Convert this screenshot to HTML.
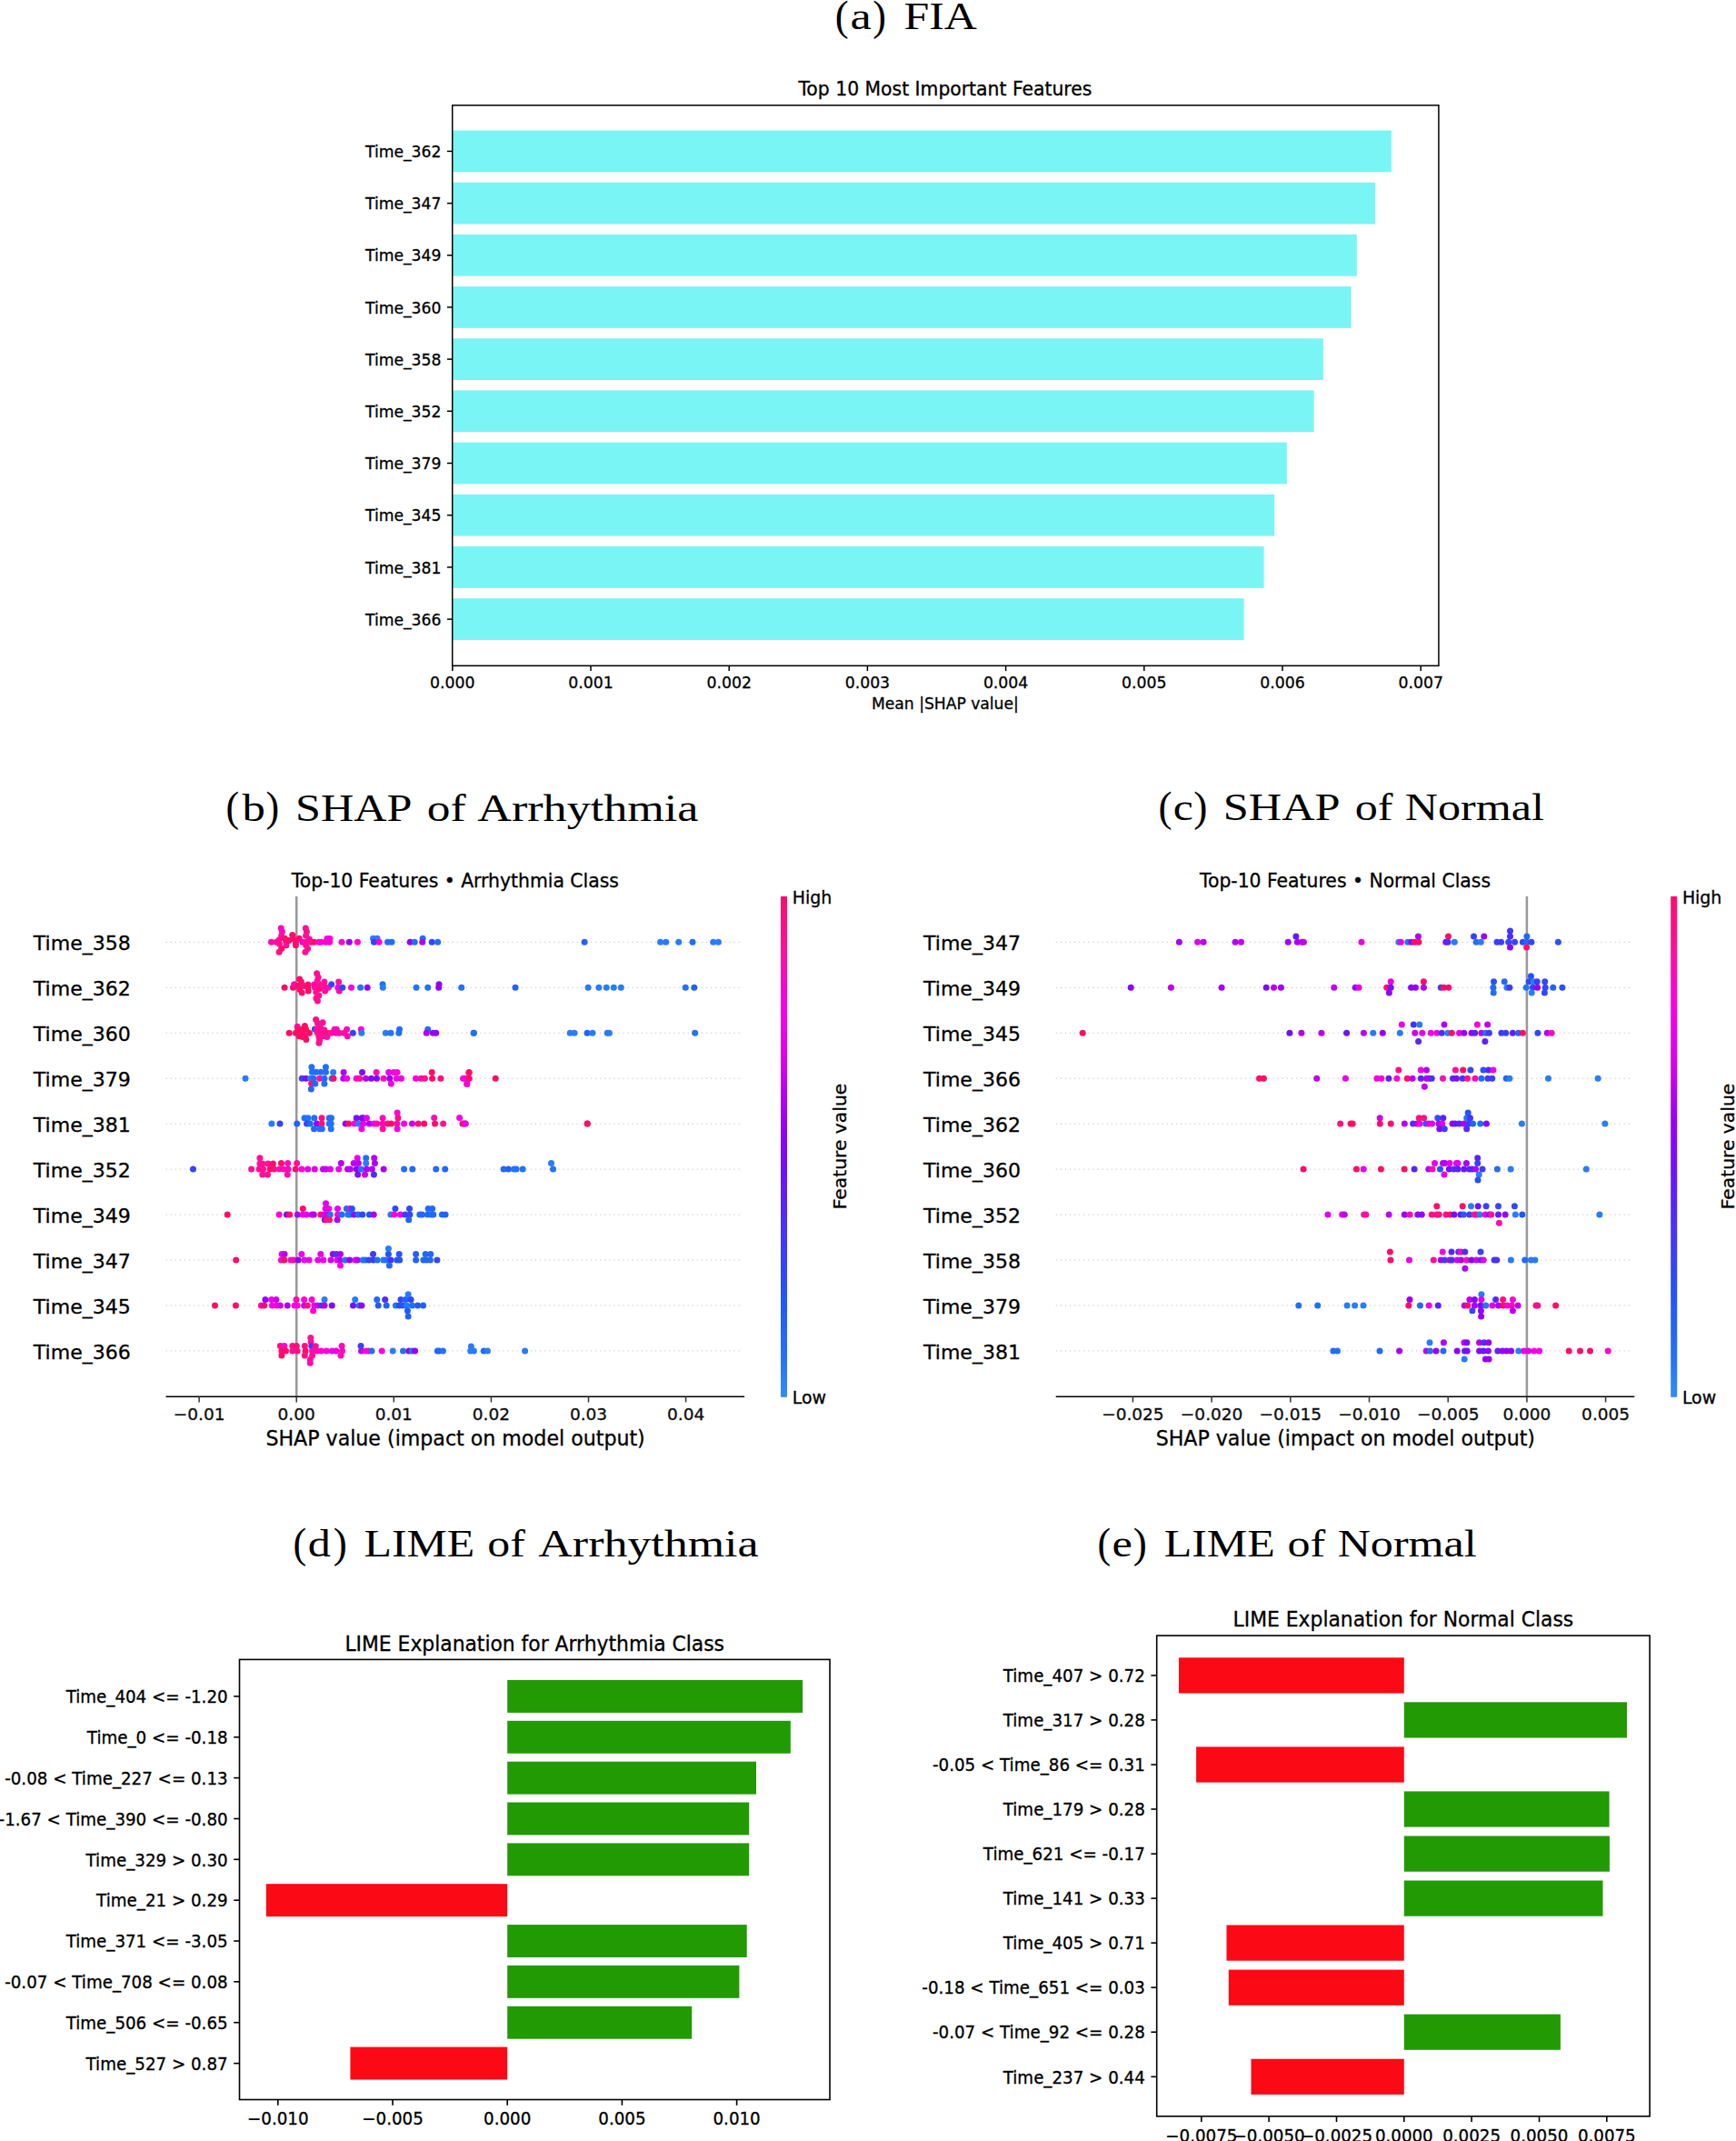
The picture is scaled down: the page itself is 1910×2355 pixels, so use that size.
<!DOCTYPE html>
<html lang="en"><head><meta charset="utf-8"><title>Explainability figure</title>
<style>html,body{margin:0;padding:0;background:#fff}body{width:1910px;height:2355px;overflow:hidden}</style></head>
<body>
<svg width="1910" height="2355" viewBox="0 0 1910 2355" style="display:block">
<rect width="1910" height="2355" fill="#fff"/>
<defs><linearGradient id="cb" x1="0" y1="1" x2="0" y2="0">
<stop offset="0.0" stop-color="rgb(50, 140, 250)"/>
<stop offset="0.08" stop-color="rgb(35, 115, 245)"/>
<stop offset="0.2" stop-color="rgb(35, 85, 250)"/>
<stop offset="0.35" stop-color="rgb(78, 46, 250)"/>
<stop offset="0.45" stop-color="rgb(108, 20, 250)"/>
<stop offset="0.55" stop-color="rgb(152, 0, 245)"/>
<stop offset="0.68" stop-color="rgb(222, 0, 236)"/>
<stop offset="0.78" stop-color="rgb(252, 0, 228)"/>
<stop offset="0.9" stop-color="rgb(255, 16, 150)"/>
<stop offset="1.0" stop-color="rgb(255, 13, 105)"/>
</linearGradient></defs>
<text font-size="42.5" font-family='"Liberation Serif","DejaVu Serif",serif' style="font-kerning:none;font-variant-ligatures:none"><tspan x="918.83" y="32.60" font-size="45.9" textLength="14.91" lengthAdjust="spacingAndGlyphs">(</tspan><tspan x="935.56" y="32.10" textLength="23.26" lengthAdjust="spacingAndGlyphs">a</tspan><tspan x="960.18" y="32.60" font-size="45.9" textLength="14.65" lengthAdjust="spacingAndGlyphs">)</tspan> <tspan x="994.46" y="32.10" textLength="80.40" lengthAdjust="spacingAndGlyphs">FIA</tspan></text>
<text font-size="42.5" font-family='"Liberation Serif","DejaVu Serif",serif' style="font-kerning:none;font-variant-ligatures:none"><tspan x="248.57" y="903.00" font-size="45.9" textLength="14.65" lengthAdjust="spacingAndGlyphs">(</tspan><tspan x="266.60" y="902.50" textLength="25.33" lengthAdjust="spacingAndGlyphs">b</tspan><tspan x="292.58" y="903.00" font-size="45.9" textLength="14.65" lengthAdjust="spacingAndGlyphs">)</tspan> <tspan x="325.04" y="902.50" textLength="128.26" lengthAdjust="spacingAndGlyphs">SHAP</tspan> <tspan x="469.85" y="902.50" textLength="42.75" lengthAdjust="spacingAndGlyphs">of</tspan> <tspan x="525.29" y="902.50" textLength="243.12" lengthAdjust="spacingAndGlyphs">Arrhythmia</tspan></text>
<text font-size="42.5" font-family='"Liberation Serif","DejaVu Serif",serif' style="font-kerning:none;font-variant-ligatures:none"><tspan x="1274.62" y="902.90" font-size="45.9" textLength="15.04" lengthAdjust="spacingAndGlyphs">(</tspan><tspan x="1290.81" y="902.40" textLength="22.01" lengthAdjust="spacingAndGlyphs">c</tspan><tspan x="1313.33" y="902.90" font-size="45.9" textLength="15.17" lengthAdjust="spacingAndGlyphs">)</tspan> <tspan x="1345.83" y="902.40" textLength="128.79" lengthAdjust="spacingAndGlyphs">SHAP</tspan> <tspan x="1490.79" y="902.40" textLength="41.81" lengthAdjust="spacingAndGlyphs">of</tspan> <tspan x="1545.76" y="902.40" textLength="153.15" lengthAdjust="spacingAndGlyphs">Normal</tspan></text>
<text font-size="42.5" font-family='"Liberation Serif","DejaVu Serif",serif' style="font-kerning:none;font-variant-ligatures:none"><tspan x="322.57" y="1712.80" font-size="45.9" textLength="14.65" lengthAdjust="spacingAndGlyphs">(</tspan><tspan x="338.79" y="1712.30" textLength="25.02" lengthAdjust="spacingAndGlyphs">d</tspan><tspan x="366.64" y="1712.80" font-size="45.9" textLength="15.04" lengthAdjust="spacingAndGlyphs">)</tspan> <tspan x="400.47" y="1712.30" textLength="121.72" lengthAdjust="spacingAndGlyphs">LIME</tspan> <tspan x="536.31" y="1712.30" textLength="41.39" lengthAdjust="spacingAndGlyphs">of</tspan> <tspan x="592.39" y="1712.30" textLength="242.22" lengthAdjust="spacingAndGlyphs">Arrhythmia</tspan></text>
<text font-size="42.5" font-family='"Liberation Serif","DejaVu Serif",serif' style="font-kerning:none;font-variant-ligatures:none"><tspan x="1207.57" y="1712.80" font-size="45.9" textLength="14.65" lengthAdjust="spacingAndGlyphs">(</tspan><tspan x="1223.64" y="1712.30" textLength="22.31" lengthAdjust="spacingAndGlyphs">e</tspan><tspan x="1246.74" y="1712.80" font-size="45.9" textLength="15.04" lengthAdjust="spacingAndGlyphs">)</tspan> <tspan x="1280.66" y="1712.30" textLength="122.03" lengthAdjust="spacingAndGlyphs">LIME</tspan> <tspan x="1416.49" y="1712.30" textLength="41.71" lengthAdjust="spacingAndGlyphs">of</tspan> <tspan x="1471.66" y="1712.30" textLength="153.05" lengthAdjust="spacingAndGlyphs">Normal</tspan></text>
<rect x="497.7" y="143.5" width="1033.2" height="45.75" fill="#79f5f6"/>
<line x1="491.9" y1="166.4" x2="497.7" y2="166.4" stroke="#000" stroke-width="1.5"/>
<text x="485.4" y="173" font-size="17.2" text-anchor="end" font-family='"DejaVu Sans","Liberation Sans",sans-serif' stroke="#000" stroke-width="0.3" >Time_362</text>
<rect x="497.7" y="200.7" width="1015.4" height="45.75" fill="#79f5f6"/>
<line x1="491.9" y1="223.6" x2="497.7" y2="223.6" stroke="#000" stroke-width="1.5"/>
<text x="485.4" y="230.2" font-size="17.2" text-anchor="end" font-family='"DejaVu Sans","Liberation Sans",sans-serif' stroke="#000" stroke-width="0.3" >Time_347</text>
<rect x="497.7" y="257.9" width="995.1" height="45.75" fill="#79f5f6"/>
<line x1="491.9" y1="280.8" x2="497.7" y2="280.8" stroke="#000" stroke-width="1.5"/>
<text x="485.4" y="287.4" font-size="17.2" text-anchor="end" font-family='"DejaVu Sans","Liberation Sans",sans-serif' stroke="#000" stroke-width="0.3" >Time_349</text>
<rect x="497.7" y="315.1" width="989" height="45.75" fill="#79f5f6"/>
<line x1="491.9" y1="337.9" x2="497.7" y2="337.9" stroke="#000" stroke-width="1.5"/>
<text x="485.4" y="344.5" font-size="17.2" text-anchor="end" font-family='"DejaVu Sans","Liberation Sans",sans-serif' stroke="#000" stroke-width="0.3" >Time_360</text>
<rect x="497.7" y="372.3" width="958.2" height="45.75" fill="#79f5f6"/>
<line x1="491.9" y1="395.1" x2="497.7" y2="395.1" stroke="#000" stroke-width="1.5"/>
<text x="485.4" y="401.7" font-size="17.2" text-anchor="end" font-family='"DejaVu Sans","Liberation Sans",sans-serif' stroke="#000" stroke-width="0.3" >Time_358</text>
<rect x="497.7" y="429.4" width="947.9" height="45.75" fill="#79f5f6"/>
<line x1="491.9" y1="452.3" x2="497.7" y2="452.3" stroke="#000" stroke-width="1.5"/>
<text x="485.4" y="458.9" font-size="17.2" text-anchor="end" font-family='"DejaVu Sans","Liberation Sans",sans-serif' stroke="#000" stroke-width="0.3" >Time_352</text>
<rect x="497.7" y="486.6" width="918.1" height="45.75" fill="#79f5f6"/>
<line x1="491.9" y1="509.5" x2="497.7" y2="509.5" stroke="#000" stroke-width="1.5"/>
<text x="485.4" y="516.1" font-size="17.2" text-anchor="end" font-family='"DejaVu Sans","Liberation Sans",sans-serif' stroke="#000" stroke-width="0.3" >Time_379</text>
<rect x="497.7" y="543.8" width="904.4" height="45.75" fill="#79f5f6"/>
<line x1="491.9" y1="566.7" x2="497.7" y2="566.7" stroke="#000" stroke-width="1.5"/>
<text x="485.4" y="573.3" font-size="17.2" text-anchor="end" font-family='"DejaVu Sans","Liberation Sans",sans-serif' stroke="#000" stroke-width="0.3" >Time_345</text>
<rect x="497.7" y="601" width="892.9" height="45.75" fill="#79f5f6"/>
<line x1="491.9" y1="623.9" x2="497.7" y2="623.9" stroke="#000" stroke-width="1.5"/>
<text x="485.4" y="630.5" font-size="17.2" text-anchor="end" font-family='"DejaVu Sans","Liberation Sans",sans-serif' stroke="#000" stroke-width="0.3" >Time_381</text>
<rect x="497.7" y="658.2" width="870.9" height="45.75" fill="#79f5f6"/>
<line x1="491.9" y1="681.1" x2="497.7" y2="681.1" stroke="#000" stroke-width="1.5"/>
<text x="485.4" y="687.7" font-size="17.2" text-anchor="end" font-family='"DejaVu Sans","Liberation Sans",sans-serif' stroke="#000" stroke-width="0.3" >Time_366</text>
<line x1="497.8" y1="732.3" x2="497.8" y2="738.1" stroke="#000" stroke-width="1.5"/>
<text x="497.8" y="757.4" font-size="17.25" text-anchor="middle" font-family='"DejaVu Sans","Liberation Sans",sans-serif' stroke="#000" stroke-width="0.3" >0.000</text>
<line x1="650" y1="732.3" x2="650" y2="738.1" stroke="#000" stroke-width="1.5"/>
<text x="650" y="757.4" font-size="17.25" text-anchor="middle" font-family='"DejaVu Sans","Liberation Sans",sans-serif' stroke="#000" stroke-width="0.3" >0.001</text>
<line x1="802.2" y1="732.3" x2="802.2" y2="738.1" stroke="#000" stroke-width="1.5"/>
<text x="802.2" y="757.4" font-size="17.25" text-anchor="middle" font-family='"DejaVu Sans","Liberation Sans",sans-serif' stroke="#000" stroke-width="0.3" >0.002</text>
<line x1="954.4" y1="732.3" x2="954.4" y2="738.1" stroke="#000" stroke-width="1.5"/>
<text x="954.4" y="757.4" font-size="17.25" text-anchor="middle" font-family='"DejaVu Sans","Liberation Sans",sans-serif' stroke="#000" stroke-width="0.3" >0.003</text>
<line x1="1106.6" y1="732.3" x2="1106.6" y2="738.1" stroke="#000" stroke-width="1.5"/>
<text x="1106.6" y="757.4" font-size="17.25" text-anchor="middle" font-family='"DejaVu Sans","Liberation Sans",sans-serif' stroke="#000" stroke-width="0.3" >0.004</text>
<line x1="1258.8" y1="732.3" x2="1258.8" y2="738.1" stroke="#000" stroke-width="1.5"/>
<text x="1258.8" y="757.4" font-size="17.25" text-anchor="middle" font-family='"DejaVu Sans","Liberation Sans",sans-serif' stroke="#000" stroke-width="0.3" >0.005</text>
<line x1="1411" y1="732.3" x2="1411" y2="738.1" stroke="#000" stroke-width="1.5"/>
<text x="1411" y="757.4" font-size="17.25" text-anchor="middle" font-family='"DejaVu Sans","Liberation Sans",sans-serif' stroke="#000" stroke-width="0.3" >0.006</text>
<line x1="1563.2" y1="732.3" x2="1563.2" y2="738.1" stroke="#000" stroke-width="1.5"/>
<text x="1563.2" y="757.4" font-size="17.25" text-anchor="middle" font-family='"DejaVu Sans","Liberation Sans",sans-serif' stroke="#000" stroke-width="0.3" >0.007</text>
<rect x="497.7" y="115.8" width="1085.2" height="616.5" fill="none" stroke="#000" stroke-width="1.5"/>
<text x="1039.9" y="780.4" font-size="17.15" text-anchor="middle" font-family='"DejaVu Sans","Liberation Sans",sans-serif' stroke="#000" stroke-width="0.3" >Mean |SHAP value|</text>
<text x="1039.9" y="105.4" font-size="20.35" text-anchor="middle" font-family='"DejaVu Sans","Liberation Sans",sans-serif' stroke="#000" stroke-width="0.3" >Top 10 Most Important Features</text>
<line x1="182.5" y1="1036.3" x2="817.1" y2="1036.3" stroke="#c2c2c2" stroke-width="1" stroke-dasharray="1.3 3.78"/>
<text x="143.7" y="1045.1" font-size="22.0" text-anchor="end" font-family='"DejaVu Sans","Liberation Sans",sans-serif' stroke="#000" stroke-width="0.3" >Time_358</text>
<line x1="182.5" y1="1086.3" x2="817.1" y2="1086.3" stroke="#c2c2c2" stroke-width="1" stroke-dasharray="1.3 3.78"/>
<text x="143.7" y="1095.1" font-size="22.0" text-anchor="end" font-family='"DejaVu Sans","Liberation Sans",sans-serif' stroke="#000" stroke-width="0.3" >Time_362</text>
<line x1="182.5" y1="1136.2" x2="817.1" y2="1136.2" stroke="#c2c2c2" stroke-width="1" stroke-dasharray="1.3 3.78"/>
<text x="143.7" y="1145" font-size="22.0" text-anchor="end" font-family='"DejaVu Sans","Liberation Sans",sans-serif' stroke="#000" stroke-width="0.3" >Time_360</text>
<line x1="182.5" y1="1186.2" x2="817.1" y2="1186.2" stroke="#c2c2c2" stroke-width="1" stroke-dasharray="1.3 3.78"/>
<text x="143.7" y="1195" font-size="22.0" text-anchor="end" font-family='"DejaVu Sans","Liberation Sans",sans-serif' stroke="#000" stroke-width="0.3" >Time_379</text>
<line x1="182.5" y1="1236.1" x2="817.1" y2="1236.1" stroke="#c2c2c2" stroke-width="1" stroke-dasharray="1.3 3.78"/>
<text x="143.7" y="1244.9" font-size="22.0" text-anchor="end" font-family='"DejaVu Sans","Liberation Sans",sans-serif' stroke="#000" stroke-width="0.3" >Time_381</text>
<line x1="182.5" y1="1286.1" x2="817.1" y2="1286.1" stroke="#c2c2c2" stroke-width="1" stroke-dasharray="1.3 3.78"/>
<text x="143.7" y="1294.9" font-size="22.0" text-anchor="end" font-family='"DejaVu Sans","Liberation Sans",sans-serif' stroke="#000" stroke-width="0.3" >Time_352</text>
<line x1="182.5" y1="1336.1" x2="817.1" y2="1336.1" stroke="#c2c2c2" stroke-width="1" stroke-dasharray="1.3 3.78"/>
<text x="143.7" y="1344.9" font-size="22.0" text-anchor="end" font-family='"DejaVu Sans","Liberation Sans",sans-serif' stroke="#000" stroke-width="0.3" >Time_349</text>
<line x1="182.5" y1="1386" x2="817.1" y2="1386" stroke="#c2c2c2" stroke-width="1" stroke-dasharray="1.3 3.78"/>
<text x="143.7" y="1394.8" font-size="22.0" text-anchor="end" font-family='"DejaVu Sans","Liberation Sans",sans-serif' stroke="#000" stroke-width="0.3" >Time_347</text>
<line x1="182.5" y1="1436" x2="817.1" y2="1436" stroke="#c2c2c2" stroke-width="1" stroke-dasharray="1.3 3.78"/>
<text x="143.7" y="1444.8" font-size="22.0" text-anchor="end" font-family='"DejaVu Sans","Liberation Sans",sans-serif' stroke="#000" stroke-width="0.3" >Time_345</text>
<line x1="182.5" y1="1485.9" x2="817.1" y2="1485.9" stroke="#c2c2c2" stroke-width="1" stroke-dasharray="1.3 3.78"/>
<text x="143.7" y="1494.7" font-size="22.0" text-anchor="end" font-family='"DejaVu Sans","Liberation Sans",sans-serif' stroke="#000" stroke-width="0.3" >Time_366</text>
<line x1="326.2" y1="986" x2="326.2" y2="1536.3" stroke="#999" stroke-width="2.55"/>
<circle cx="298.5" cy="1036.3" r="3.5" fill="#fe09b7"/>
<circle cx="304.1" cy="1036.3" r="3.5" fill="#fe09b7"/>
<circle cx="309.2" cy="1021" r="3.5" fill="#fe09b7"/>
<circle cx="310.4" cy="1024.8" r="3.5" fill="#fe09b7"/>
<circle cx="309.7" cy="1029.3" r="3.5" fill="#fe09b7"/>
<circle cx="307.1" cy="1033.8" r="3.5" fill="#ff1096"/>
<circle cx="307.4" cy="1038.2" r="3.5" fill="#ff1096"/>
<circle cx="309.7" cy="1043.5" r="3.5" fill="#ff0d69"/>
<circle cx="307.1" cy="1047.2" r="3.5" fill="#ff0f80"/>
<circle cx="313.4" cy="1032.3" r="3.5" fill="#ff0d69"/>
<circle cx="314.9" cy="1036.3" r="3.5" fill="#ff0d69"/>
<circle cx="314.9" cy="1039.7" r="3.5" fill="#ff1096"/>
<circle cx="317.9" cy="1034.5" r="3.5" fill="#ff0d69"/>
<circle cx="321.7" cy="1028.5" r="3.5" fill="#ff0d69"/>
<circle cx="322.4" cy="1032.3" r="3.5" fill="#ff0d69"/>
<circle cx="325.4" cy="1036.3" r="3.5" fill="#ff0d69"/>
<circle cx="325.4" cy="1039.7" r="3.5" fill="#ff0d69"/>
<circle cx="329.2" cy="1032.3" r="3.5" fill="#ff0d69"/>
<circle cx="332.9" cy="1036.3" r="3.5" fill="#ea00e9"/>
<circle cx="336.3" cy="1021" r="3.5" fill="#ff1096"/>
<circle cx="337.4" cy="1024.8" r="3.5" fill="#ff1096"/>
<circle cx="336.6" cy="1029.3" r="3.5" fill="#ff1096"/>
<circle cx="340.4" cy="1033" r="3.5" fill="#ff1096"/>
<circle cx="336.6" cy="1036.3" r="3.5" fill="#ff1096"/>
<circle cx="336.6" cy="1039.7" r="3.5" fill="#ff1096"/>
<circle cx="338.6" cy="1043.5" r="3.5" fill="#ff1096"/>
<circle cx="335.9" cy="1047.2" r="3.5" fill="#ff1096"/>
<circle cx="341.9" cy="1036.3" r="3.5" fill="#ff1096"/>
<circle cx="345.6" cy="1036.3" r="3.5" fill="#ff0d69"/>
<circle cx="350.9" cy="1036.3" r="3.5" fill="#fc03d7"/>
<circle cx="353.1" cy="1036.3" r="3.5" fill="#fc03d7"/>
<circle cx="358.4" cy="1036.3" r="3.5" fill="#fe09b7"/>
<circle cx="359.9" cy="1032.6" r="3.5" fill="#fc03d7"/>
<circle cx="362.9" cy="1032.6" r="3.5" fill="#f300e6"/>
<circle cx="362.6" cy="1036.3" r="3.5" fill="#fc03d7"/>
<circle cx="376" cy="1036.3" r="3.5" fill="#fc03d7"/>
<circle cx="384.3" cy="1036.3" r="3.5" fill="#9800f5"/>
<circle cx="393.4" cy="1036.3" r="3.5" fill="#fc03d7"/>
<circle cx="410.5" cy="1032.3" r="3.5" fill="#297cf7"/>
<circle cx="415" cy="1032.3" r="3.5" fill="#297cf7"/>
<circle cx="411.5" cy="1036.3" r="3.5" fill="#403bfa"/>
<circle cx="417.1" cy="1036.3" r="3.5" fill="#fc03d7"/>
<circle cx="426.5" cy="1036.3" r="3.5" fill="#236ef6"/>
<circle cx="431" cy="1036.3" r="3.5" fill="#236ef6"/>
<circle cx="451.2" cy="1036.3" r="3.5" fill="#9800f5"/>
<circle cx="456.2" cy="1036.3" r="3.5" fill="#236ef6"/>
<circle cx="465.1" cy="1032.3" r="3.5" fill="#236ef6"/>
<circle cx="464.7" cy="1036.3" r="3.5" fill="#b300f2"/>
<circle cx="475.2" cy="1036.3" r="3.5" fill="#3148fa"/>
<circle cx="481.6" cy="1036.3" r="3.5" fill="#236ef6"/>
<circle cx="313.1" cy="1086.3" r="3.5" fill="#ff0d69"/>
<circle cx="322.4" cy="1086.3" r="3.5" fill="#ff0d69"/>
<circle cx="323.6" cy="1082.8" r="3.5" fill="#fe09b7"/>
<circle cx="327.7" cy="1084.6" r="3.5" fill="#ff0d69"/>
<circle cx="329.6" cy="1077.1" r="3.5" fill="#ff0d69"/>
<circle cx="331.4" cy="1080.1" r="3.5" fill="#ff0d69"/>
<circle cx="329.9" cy="1088.4" r="3.5" fill="#ff0d69"/>
<circle cx="332.2" cy="1092.1" r="3.5" fill="#ff0d69"/>
<circle cx="334.4" cy="1084.6" r="3.5" fill="#ff0f80"/>
<circle cx="338.9" cy="1083.1" r="3.5" fill="#ff0d69"/>
<circle cx="338.9" cy="1086.3" r="3.5" fill="#ff0d69"/>
<circle cx="339.2" cy="1089.9" r="3.5" fill="#ff0d69"/>
<circle cx="345.6" cy="1083.1" r="3.5" fill="#fc03d7"/>
<circle cx="346.4" cy="1086.3" r="3.5" fill="#ff1096"/>
<circle cx="348.6" cy="1070.8" r="3.5" fill="#ff1096"/>
<circle cx="350.1" cy="1074.9" r="3.5" fill="#ff1096"/>
<circle cx="349.1" cy="1078.9" r="3.5" fill="#ff1096"/>
<circle cx="350.9" cy="1082.4" r="3.5" fill="#ff1096"/>
<circle cx="351.6" cy="1087.6" r="3.5" fill="#ff0f80"/>
<circle cx="347.9" cy="1091.4" r="3.5" fill="#ff1096"/>
<circle cx="350.9" cy="1095.1" r="3.5" fill="#ff1096"/>
<circle cx="347.9" cy="1098.1" r="3.5" fill="#ff1096"/>
<circle cx="349.4" cy="1101.1" r="3.5" fill="#ff1096"/>
<circle cx="356.9" cy="1080.1" r="3.5" fill="#ff1096"/>
<circle cx="356.1" cy="1083.9" r="3.5" fill="#ff1096"/>
<circle cx="358.4" cy="1086.3" r="3.5" fill="#ff1096"/>
<circle cx="357.6" cy="1089.9" r="3.5" fill="#ff1096"/>
<circle cx="361.4" cy="1086.3" r="3.5" fill="#fe09b7"/>
<circle cx="364.7" cy="1082.8" r="3.5" fill="#3148fa"/>
<circle cx="372.6" cy="1080.1" r="3.5" fill="#ff1096"/>
<circle cx="371.8" cy="1086.3" r="3.5" fill="#f300e6"/>
<circle cx="373.3" cy="1089.9" r="3.5" fill="#fe09b7"/>
<circle cx="376.8" cy="1086.3" r="3.5" fill="#3148fa"/>
<circle cx="386.5" cy="1086.3" r="3.5" fill="#fc03d7"/>
<circle cx="396.6" cy="1086.3" r="3.5" fill="#2373f5"/>
<circle cx="404.2" cy="1086.3" r="3.5" fill="#9800f5"/>
<circle cx="421" cy="1082.8" r="3.5" fill="#236ef6"/>
<circle cx="421.3" cy="1086.3" r="3.5" fill="#297cf7"/>
<circle cx="458" cy="1086.3" r="3.5" fill="#2373f5"/>
<circle cx="470.7" cy="1086.3" r="3.5" fill="#2373f5"/>
<circle cx="483" cy="1082.8" r="3.5" fill="#9800f5"/>
<circle cx="482.7" cy="1086.3" r="3.5" fill="#9800f5"/>
<circle cx="507.7" cy="1086.3" r="3.5" fill="#2373f5"/>
<circle cx="643.1" cy="1036.3" r="3.5" fill="#2362f8"/>
<circle cx="726.6" cy="1036.3" r="3.5" fill="#297cf7"/>
<circle cx="732.7" cy="1036.3" r="3.5" fill="#297cf7"/>
<circle cx="746.7" cy="1036.3" r="3.5" fill="#297cf7"/>
<circle cx="762" cy="1036.3" r="3.5" fill="#236ef6"/>
<circle cx="784.7" cy="1036.3" r="3.5" fill="#297cf7"/>
<circle cx="790.4" cy="1036.3" r="3.5" fill="#297cf7"/>
<circle cx="567" cy="1086.3" r="3.5" fill="#2362f8"/>
<circle cx="647.1" cy="1086.3" r="3.5" fill="#297cf7"/>
<circle cx="658.9" cy="1086.3" r="3.5" fill="#297cf7"/>
<circle cx="667.2" cy="1086.3" r="3.5" fill="#297cf7"/>
<circle cx="675.3" cy="1086.3" r="3.5" fill="#297cf7"/>
<circle cx="683.3" cy="1086.3" r="3.5" fill="#297cf7"/>
<circle cx="754.2" cy="1086.3" r="3.5" fill="#2373f5"/>
<circle cx="763.8" cy="1086.3" r="3.5" fill="#2362f8"/>
<circle cx="521.2" cy="1136.2" r="3.5" fill="#2362f8"/>
<circle cx="627.2" cy="1136.2" r="3.5" fill="#297cf7"/>
<circle cx="632" cy="1136.2" r="3.5" fill="#297cf7"/>
<circle cx="646" cy="1136.2" r="3.5" fill="#2362f8"/>
<circle cx="651.9" cy="1136.2" r="3.5" fill="#297cf7"/>
<circle cx="668.2" cy="1136.2" r="3.5" fill="#297cf7"/>
<circle cx="670.4" cy="1136.2" r="3.5" fill="#297cf7"/>
<circle cx="764.7" cy="1136.2" r="3.5" fill="#2373f5"/>
<circle cx="515.9" cy="1179.9" r="3.5" fill="#ff0d69"/>
<circle cx="511.5" cy="1186.2" r="3.5" fill="#f300e6"/>
<circle cx="515.9" cy="1186.2" r="3.5" fill="#ff0d69"/>
<circle cx="513.7" cy="1192.4" r="3.5" fill="#f300e6"/>
<circle cx="545.2" cy="1186.2" r="3.5" fill="#ff0d69"/>
<circle cx="510" cy="1236.1" r="3.5" fill="#ff0d69"/>
<circle cx="512.2" cy="1236.1" r="3.5" fill="#ea00e9"/>
<circle cx="646.2" cy="1236.1" r="3.5" fill="#ff0d69"/>
<circle cx="318.2" cy="1136.2" r="3.5" fill="#ff0d69"/>
<circle cx="325.4" cy="1136.2" r="3.5" fill="#ff0d69"/>
<circle cx="327.2" cy="1129.2" r="3.5" fill="#ff1096"/>
<circle cx="327.7" cy="1132.9" r="3.5" fill="#ff0d69"/>
<circle cx="329.2" cy="1139.7" r="3.5" fill="#ff0d69"/>
<circle cx="332.2" cy="1132.2" r="3.5" fill="#ff0d69"/>
<circle cx="332.9" cy="1136.2" r="3.5" fill="#ff0d69"/>
<circle cx="332.9" cy="1140.4" r="3.5" fill="#ff0d69"/>
<circle cx="335.4" cy="1128.4" r="3.5" fill="#ff0d69"/>
<circle cx="336.6" cy="1132.2" r="3.5" fill="#ff0d69"/>
<circle cx="335.9" cy="1139.7" r="3.5" fill="#ff0d69"/>
<circle cx="336.9" cy="1143.4" r="3.5" fill="#ff0d69"/>
<circle cx="340.4" cy="1136.2" r="3.5" fill="#ff0d69"/>
<circle cx="346.4" cy="1131.9" r="3.5" fill="#3148fa"/>
<circle cx="347.6" cy="1121.4" r="3.5" fill="#ff0f80"/>
<circle cx="349.4" cy="1125.4" r="3.5" fill="#ff1096"/>
<circle cx="355.1" cy="1124.7" r="3.5" fill="#ff1096"/>
<circle cx="351.6" cy="1128.4" r="3.5" fill="#ff1096"/>
<circle cx="348.6" cy="1132.2" r="3.5" fill="#ff1096"/>
<circle cx="353.9" cy="1132.2" r="3.5" fill="#ff1096"/>
<circle cx="356.9" cy="1132.9" r="3.5" fill="#ff1096"/>
<circle cx="349.4" cy="1136.2" r="3.5" fill="#ff1096"/>
<circle cx="353.9" cy="1137.4" r="3.5" fill="#ff0f80"/>
<circle cx="350.9" cy="1140.4" r="3.5" fill="#ff1096"/>
<circle cx="356.1" cy="1139.7" r="3.5" fill="#ff1096"/>
<circle cx="351.6" cy="1144.2" r="3.5" fill="#ff1096"/>
<circle cx="350.9" cy="1147.2" r="3.5" fill="#ff1096"/>
<circle cx="359.9" cy="1136.2" r="3.5" fill="#ff0f80"/>
<circle cx="359.9" cy="1140.4" r="3.5" fill="#fe09b7"/>
<circle cx="364.4" cy="1136.2" r="3.5" fill="#ff1096"/>
<circle cx="368.1" cy="1132.2" r="3.5" fill="#fe09b7"/>
<circle cx="370.3" cy="1132.2" r="3.5" fill="#fe09b7"/>
<circle cx="369.6" cy="1136.2" r="3.5" fill="#fe09b7"/>
<circle cx="373.3" cy="1136.2" r="3.5" fill="#fe09b7"/>
<circle cx="378.6" cy="1136.2" r="3.5" fill="#ff1096"/>
<circle cx="381.6" cy="1132.2" r="3.5" fill="#fe09b7"/>
<circle cx="382.3" cy="1139.7" r="3.5" fill="#fe09b7"/>
<circle cx="388.3" cy="1136.2" r="3.5" fill="#3a40fa"/>
<circle cx="397.3" cy="1132.2" r="3.5" fill="#fc03d7"/>
<circle cx="397.8" cy="1136.2" r="3.5" fill="#297cf7"/>
<circle cx="424.3" cy="1136.2" r="3.5" fill="#297cf7"/>
<circle cx="430" cy="1136.2" r="3.5" fill="#2373f5"/>
<circle cx="439.5" cy="1132.2" r="3.5" fill="#236ef6"/>
<circle cx="438.8" cy="1136.2" r="3.5" fill="#236ef6"/>
<circle cx="470.7" cy="1132.2" r="3.5" fill="#236ef6"/>
<circle cx="469.2" cy="1136.2" r="3.5" fill="#b300f2"/>
<circle cx="476.4" cy="1136.2" r="3.5" fill="#9800f5"/>
<circle cx="479.7" cy="1136.2" r="3.5" fill="#9800f5"/>
<circle cx="521.3" cy="1136.2" r="3.5" fill="#236ef6"/>
<circle cx="270" cy="1186.2" r="3.5" fill="#297cf7"/>
<circle cx="332.2" cy="1186.2" r="3.5" fill="#3a40fa"/>
<circle cx="336.6" cy="1186.2" r="3.5" fill="#820af8"/>
<circle cx="342.9" cy="1173.7" r="3.5" fill="#236ef6"/>
<circle cx="358.4" cy="1173.7" r="3.5" fill="#236ef6"/>
<circle cx="343.4" cy="1179.3" r="3.5" fill="#236ef6"/>
<circle cx="347.9" cy="1179.3" r="3.5" fill="#236ef6"/>
<circle cx="353.1" cy="1179.3" r="3.5" fill="#236ef6"/>
<circle cx="358.4" cy="1179.3" r="3.5" fill="#236ef6"/>
<circle cx="366.6" cy="1179.6" r="3.5" fill="#297cf7"/>
<circle cx="341.6" cy="1186.2" r="3.5" fill="#297cf7"/>
<circle cx="344.9" cy="1186.2" r="3.5" fill="#236ef6"/>
<circle cx="351.6" cy="1186.2" r="3.5" fill="#ff1096"/>
<circle cx="356.9" cy="1186.2" r="3.5" fill="#2369f7"/>
<circle cx="365.1" cy="1186.2" r="3.5" fill="#236ef6"/>
<circle cx="367" cy="1186.2" r="3.5" fill="#ff0d69"/>
<circle cx="342.6" cy="1192" r="3.5" fill="#ff0f80"/>
<circle cx="346.8" cy="1192" r="3.5" fill="#2369f7"/>
<circle cx="356.9" cy="1192" r="3.5" fill="#236ef6"/>
<circle cx="342.3" cy="1198" r="3.5" fill="#2369f7"/>
<circle cx="378.1" cy="1179.6" r="3.5" fill="#b300f2"/>
<circle cx="377.8" cy="1186.2" r="3.5" fill="#be00f0"/>
<circle cx="381.6" cy="1186.2" r="3.5" fill="#ea00e9"/>
<circle cx="392.1" cy="1186.2" r="3.5" fill="#fc03d7"/>
<circle cx="395.8" cy="1186.2" r="3.5" fill="#ff1096"/>
<circle cx="398.5" cy="1179.6" r="3.5" fill="#820af8"/>
<circle cx="402.5" cy="1186.2" r="3.5" fill="#b300f2"/>
<circle cx="408.5" cy="1186.2" r="3.5" fill="#820af8"/>
<circle cx="414.1" cy="1179.6" r="3.5" fill="#fe09b7"/>
<circle cx="414.5" cy="1186.2" r="3.5" fill="#820af8"/>
<circle cx="422" cy="1186.2" r="3.5" fill="#fe09b7"/>
<circle cx="427.7" cy="1179.6" r="3.5" fill="#e400ea"/>
<circle cx="428.8" cy="1186.2" r="3.5" fill="#9800f5"/>
<circle cx="430.3" cy="1192" r="3.5" fill="#f300e6"/>
<circle cx="433.2" cy="1179.6" r="3.5" fill="#fc03d7"/>
<circle cx="437" cy="1179.6" r="3.5" fill="#fc03d7"/>
<circle cx="436.2" cy="1186.2" r="3.5" fill="#f300e6"/>
<circle cx="441.5" cy="1186.2" r="3.5" fill="#f300e6"/>
<circle cx="457.5" cy="1186.2" r="3.5" fill="#f300e6"/>
<circle cx="463.2" cy="1186.2" r="3.5" fill="#ff1096"/>
<circle cx="467.4" cy="1186.2" r="3.5" fill="#ff1096"/>
<circle cx="475.2" cy="1179.6" r="3.5" fill="#ff0d69"/>
<circle cx="475.6" cy="1186.2" r="3.5" fill="#ff0d69"/>
<circle cx="484.9" cy="1186.2" r="3.5" fill="#ff0f80"/>
<circle cx="509.6" cy="1186.2" r="3.5" fill="#fc03d7"/>
<circle cx="516.1" cy="1179.6" r="3.5" fill="#ff0d69"/>
<circle cx="516.1" cy="1186.2" r="3.5" fill="#ff0d69"/>
<circle cx="513.8" cy="1192" r="3.5" fill="#fc03d7"/>
<circle cx="298.9" cy="1236.1" r="3.5" fill="#297cf7"/>
<circle cx="308" cy="1236.1" r="3.5" fill="#3a40fa"/>
<circle cx="326.7" cy="1236.1" r="3.5" fill="#2362f8"/>
<circle cx="335" cy="1229.8" r="3.5" fill="#236ef6"/>
<circle cx="339" cy="1229.8" r="3.5" fill="#2373f5"/>
<circle cx="345.8" cy="1229.8" r="3.5" fill="#236ef6"/>
<circle cx="354" cy="1229.8" r="3.5" fill="#ff0f80"/>
<circle cx="362.2" cy="1229.8" r="3.5" fill="#236ef6"/>
<circle cx="364.5" cy="1229.8" r="3.5" fill="#236ef6"/>
<circle cx="337.5" cy="1236.1" r="3.5" fill="#3148fa"/>
<circle cx="341.3" cy="1236.1" r="3.5" fill="#2369f7"/>
<circle cx="348.5" cy="1236.1" r="3.5" fill="#9800f5"/>
<circle cx="354" cy="1236.1" r="3.5" fill="#ff0f80"/>
<circle cx="362.2" cy="1236.1" r="3.5" fill="#2373f5"/>
<circle cx="364.2" cy="1236.1" r="3.5" fill="#2373f5"/>
<circle cx="345.5" cy="1241.8" r="3.5" fill="#2369f7"/>
<circle cx="351.7" cy="1241.8" r="3.5" fill="#236ef6"/>
<circle cx="354.3" cy="1241.8" r="3.5" fill="#236ef6"/>
<circle cx="364.2" cy="1241.8" r="3.5" fill="#2373f5"/>
<circle cx="380.2" cy="1236.1" r="3.5" fill="#820af8"/>
<circle cx="383.6" cy="1236.1" r="3.5" fill="#ff0d69"/>
<circle cx="389.9" cy="1236.1" r="3.5" fill="#fc03d7"/>
<circle cx="392.2" cy="1229.8" r="3.5" fill="#820af8"/>
<circle cx="394.4" cy="1236.1" r="3.5" fill="#297cf7"/>
<circle cx="398.2" cy="1229.8" r="3.5" fill="#820af8"/>
<circle cx="399.7" cy="1229.8" r="3.5" fill="#820af8"/>
<circle cx="403.4" cy="1229.8" r="3.5" fill="#e400ea"/>
<circle cx="399.7" cy="1236.1" r="3.5" fill="#e400ea"/>
<circle cx="397.9" cy="1241.8" r="3.5" fill="#fc03d7"/>
<circle cx="406.4" cy="1236.1" r="3.5" fill="#b300f2"/>
<circle cx="411.7" cy="1236.1" r="3.5" fill="#e400ea"/>
<circle cx="414.7" cy="1236.1" r="3.5" fill="#fe09b7"/>
<circle cx="421.1" cy="1229.8" r="3.5" fill="#fe09b7"/>
<circle cx="421.1" cy="1236.1" r="3.5" fill="#fe09b7"/>
<circle cx="421.1" cy="1241.8" r="3.5" fill="#ff1096"/>
<circle cx="426.6" cy="1236.1" r="3.5" fill="#ff0f80"/>
<circle cx="430.4" cy="1236.1" r="3.5" fill="#ff0d69"/>
<circle cx="437.1" cy="1223.9" r="3.5" fill="#fc03d7"/>
<circle cx="437.9" cy="1229.8" r="3.5" fill="#ff0f80"/>
<circle cx="436.8" cy="1236.1" r="3.5" fill="#fe09b7"/>
<circle cx="437.1" cy="1241.8" r="3.5" fill="#f300e6"/>
<circle cx="444.6" cy="1236.1" r="3.5" fill="#fc03d7"/>
<circle cx="212.5" cy="1286.1" r="3.5" fill="#3a40fa"/>
<circle cx="276.6" cy="1286.1" r="3.5" fill="#ff1096"/>
<circle cx="285.9" cy="1273.7" r="3.5" fill="#ff1096"/>
<circle cx="285.9" cy="1280" r="3.5" fill="#ff1096"/>
<circle cx="288.8" cy="1280" r="3.5" fill="#ff1096"/>
<circle cx="294.8" cy="1280" r="3.5" fill="#ff1096"/>
<circle cx="300.4" cy="1280" r="3.5" fill="#ff0d69"/>
<circle cx="309.4" cy="1279.5" r="3.5" fill="#ff0d69"/>
<circle cx="316.6" cy="1279.5" r="3.5" fill="#fe09b7"/>
<circle cx="326.6" cy="1279.5" r="3.5" fill="#ff1096"/>
<circle cx="285.1" cy="1286.1" r="3.5" fill="#ff1096"/>
<circle cx="289.6" cy="1286.1" r="3.5" fill="#ff1096"/>
<circle cx="297.1" cy="1286.1" r="3.5" fill="#ff0d69"/>
<circle cx="301.6" cy="1286.1" r="3.5" fill="#ff0f80"/>
<circle cx="307.6" cy="1286.1" r="3.5" fill="#fe09b7"/>
<circle cx="312.1" cy="1286.1" r="3.5" fill="#fe09b7"/>
<circle cx="317" cy="1286.1" r="3.5" fill="#fe09b7"/>
<circle cx="325.2" cy="1286.1" r="3.5" fill="#ff0d69"/>
<circle cx="288.8" cy="1291.9" r="3.5" fill="#ff1096"/>
<circle cx="294.5" cy="1291.9" r="3.5" fill="#ff1096"/>
<circle cx="316.3" cy="1291.9" r="3.5" fill="#fe09b7"/>
<circle cx="332" cy="1286.1" r="3.5" fill="#fc03d7"/>
<circle cx="338.7" cy="1286.1" r="3.5" fill="#e400ea"/>
<circle cx="346.2" cy="1286.1" r="3.5" fill="#e400ea"/>
<circle cx="355.5" cy="1286.1" r="3.5" fill="#be00f0"/>
<circle cx="358.5" cy="1286.1" r="3.5" fill="#be00f0"/>
<circle cx="363.4" cy="1286.1" r="3.5" fill="#ea00e9"/>
<circle cx="372.7" cy="1286.1" r="3.5" fill="#ea00e9"/>
<circle cx="375.3" cy="1279.5" r="3.5" fill="#b300f2"/>
<circle cx="382.5" cy="1286.1" r="3.5" fill="#b300f2"/>
<circle cx="385.4" cy="1286.1" r="3.5" fill="#b300f2"/>
<circle cx="389.2" cy="1279.5" r="3.5" fill="#be00f0"/>
<circle cx="393.2" cy="1273.7" r="3.5" fill="#ea00e9"/>
<circle cx="394.4" cy="1279.5" r="3.5" fill="#be00f0"/>
<circle cx="392.2" cy="1286.1" r="3.5" fill="#9800f5"/>
<circle cx="393.7" cy="1291.9" r="3.5" fill="#820af8"/>
<circle cx="397.4" cy="1286.1" r="3.5" fill="#2373f5"/>
<circle cx="402.7" cy="1273.7" r="3.5" fill="#236ef6"/>
<circle cx="402.7" cy="1279.5" r="3.5" fill="#297cf7"/>
<circle cx="403.4" cy="1286.1" r="3.5" fill="#b300f2"/>
<circle cx="401.5" cy="1291.9" r="3.5" fill="#ce00ee"/>
<circle cx="411.7" cy="1273.7" r="3.5" fill="#b300f2"/>
<circle cx="412.4" cy="1279.5" r="3.5" fill="#b300f2"/>
<circle cx="409.4" cy="1286.1" r="3.5" fill="#b300f2"/>
<circle cx="411.4" cy="1291.9" r="3.5" fill="#4e2efa"/>
<circle cx="422.1" cy="1286.1" r="3.5" fill="#a800f3"/>
<circle cx="444.6" cy="1286.1" r="3.5" fill="#236ef6"/>
<circle cx="453.5" cy="1236.1" r="3.5" fill="#ce00ee"/>
<circle cx="460.2" cy="1236.1" r="3.5" fill="#ff0f80"/>
<circle cx="466.7" cy="1236.1" r="3.5" fill="#ff0d69"/>
<circle cx="477.7" cy="1229.6" r="3.5" fill="#fe09b7"/>
<circle cx="478.5" cy="1236.1" r="3.5" fill="#ff0d69"/>
<circle cx="487.6" cy="1236.1" r="3.5" fill="#ff1096"/>
<circle cx="505.6" cy="1229.6" r="3.5" fill="#f300e6"/>
<circle cx="508.9" cy="1236.1" r="3.5" fill="#ff0d69"/>
<circle cx="511.9" cy="1236.1" r="3.5" fill="#ea00e9"/>
<circle cx="646.2" cy="1236.1" r="3.5" fill="#ff0d69"/>
<circle cx="453.8" cy="1286.1" r="3.5" fill="#2369f7"/>
<circle cx="479.7" cy="1286.1" r="3.5" fill="#2369f7"/>
<circle cx="489.7" cy="1286.1" r="3.5" fill="#2369f7"/>
<circle cx="554.1" cy="1286.1" r="3.5" fill="#2369f7"/>
<circle cx="559.4" cy="1286.1" r="3.5" fill="#2362f8"/>
<circle cx="565.5" cy="1286.1" r="3.5" fill="#2373f5"/>
<circle cx="568.1" cy="1286.1" r="3.5" fill="#2373f5"/>
<circle cx="575.1" cy="1286.1" r="3.5" fill="#2373f5"/>
<circle cx="606.5" cy="1279.5" r="3.5" fill="#297cf7"/>
<circle cx="608.5" cy="1286.1" r="3.5" fill="#2373f5"/>
<circle cx="250.2" cy="1336.1" r="3.5" fill="#ff0d69"/>
<circle cx="307.1" cy="1336.1" r="3.5" fill="#f300e6"/>
<circle cx="315.4" cy="1336.1" r="3.5" fill="#820af8"/>
<circle cx="318.7" cy="1336.1" r="3.5" fill="#ff0d69"/>
<circle cx="327.3" cy="1336.1" r="3.5" fill="#b300f2"/>
<circle cx="333.3" cy="1329.5" r="3.5" fill="#ff0d69"/>
<circle cx="333.3" cy="1336.1" r="3.5" fill="#ea00e9"/>
<circle cx="337.1" cy="1336.1" r="3.5" fill="#ea00e9"/>
<circle cx="343.1" cy="1336.1" r="3.5" fill="#ce00ee"/>
<circle cx="345.3" cy="1336.1" r="3.5" fill="#b300f2"/>
<circle cx="352.8" cy="1336.1" r="3.5" fill="#ff0d69"/>
<circle cx="358.5" cy="1323.8" r="3.5" fill="#e400ea"/>
<circle cx="358.1" cy="1329.5" r="3.5" fill="#ea00e9"/>
<circle cx="361.8" cy="1329.5" r="3.5" fill="#ea00e9"/>
<circle cx="356.6" cy="1336.1" r="3.5" fill="#e400ea"/>
<circle cx="360.3" cy="1336.1" r="3.5" fill="#ce00ee"/>
<circle cx="363.3" cy="1336.1" r="3.5" fill="#2373f5"/>
<circle cx="357.3" cy="1341.8" r="3.5" fill="#820af8"/>
<circle cx="359.1" cy="1341.8" r="3.5" fill="#ff0f80"/>
<circle cx="362.5" cy="1341.8" r="3.5" fill="#ff0f80"/>
<circle cx="371.5" cy="1329.5" r="3.5" fill="#ea00e9"/>
<circle cx="371.5" cy="1336.1" r="3.5" fill="#fc03d7"/>
<circle cx="371.1" cy="1341.8" r="3.5" fill="#b300f2"/>
<circle cx="376" cy="1336.1" r="3.5" fill="#236ef6"/>
<circle cx="381.3" cy="1329.5" r="3.5" fill="#236ef6"/>
<circle cx="385" cy="1329.5" r="3.5" fill="#fc03d7"/>
<circle cx="387.3" cy="1329.5" r="3.5" fill="#2355fa"/>
<circle cx="382.8" cy="1336.1" r="3.5" fill="#2373f5"/>
<circle cx="385" cy="1336.1" r="3.5" fill="#2373f5"/>
<circle cx="389.8" cy="1336.1" r="3.5" fill="#9800f5"/>
<circle cx="394" cy="1336.1" r="3.5" fill="#236ef6"/>
<circle cx="398.8" cy="1336.1" r="3.5" fill="#3148fa"/>
<circle cx="406.4" cy="1336.1" r="3.5" fill="#2355fa"/>
<circle cx="411.2" cy="1336.1" r="3.5" fill="#a800f3"/>
<circle cx="429.9" cy="1336.1" r="3.5" fill="#297cf7"/>
<circle cx="433.7" cy="1336.1" r="3.5" fill="#fc03d7"/>
<circle cx="434.9" cy="1329.5" r="3.5" fill="#3148fa"/>
<circle cx="440.4" cy="1336.1" r="3.5" fill="#f300e6"/>
<circle cx="445.7" cy="1336.1" r="3.5" fill="#403bfa"/>
<circle cx="450.5" cy="1329.5" r="3.5" fill="#3148fa"/>
<circle cx="450.9" cy="1336.1" r="3.5" fill="#3148fa"/>
<circle cx="449.7" cy="1341.8" r="3.5" fill="#2362f8"/>
<circle cx="461.8" cy="1336.1" r="3.5" fill="#2369f7"/>
<circle cx="464.4" cy="1336.1" r="3.5" fill="#2369f7"/>
<circle cx="471.1" cy="1329.5" r="3.5" fill="#2369f7"/>
<circle cx="475.6" cy="1329.5" r="3.5" fill="#2369f7"/>
<circle cx="470.4" cy="1336.1" r="3.5" fill="#2369f7"/>
<circle cx="474.1" cy="1336.1" r="3.5" fill="#2369f7"/>
<circle cx="476.8" cy="1336.1" r="3.5" fill="#2369f7"/>
<circle cx="486.4" cy="1336.1" r="3.5" fill="#2369f7"/>
<circle cx="490" cy="1336.1" r="3.5" fill="#2362f8"/>
<circle cx="259.7" cy="1386" r="3.5" fill="#ff0d69"/>
<circle cx="310.1" cy="1379.4" r="3.5" fill="#fc03d7"/>
<circle cx="313.1" cy="1379.4" r="3.5" fill="#b300f2"/>
<circle cx="309.4" cy="1386" r="3.5" fill="#fc03d7"/>
<circle cx="312.8" cy="1386" r="3.5" fill="#ff0d69"/>
<circle cx="319.9" cy="1386" r="3.5" fill="#f300e6"/>
<circle cx="322.9" cy="1386" r="3.5" fill="#ff1096"/>
<circle cx="328.1" cy="1386" r="3.5" fill="#820af8"/>
<circle cx="331.8" cy="1379.4" r="3.5" fill="#f300e6"/>
<circle cx="334.8" cy="1386" r="3.5" fill="#ea00e9"/>
<circle cx="340.1" cy="1386" r="3.5" fill="#ea00e9"/>
<circle cx="349.8" cy="1386" r="3.5" fill="#ea00e9"/>
<circle cx="352.8" cy="1379.4" r="3.5" fill="#ea00e9"/>
<circle cx="355.8" cy="1386" r="3.5" fill="#ea00e9"/>
<circle cx="364" cy="1386" r="3.5" fill="#ce00ee"/>
<circle cx="366.3" cy="1379.4" r="3.5" fill="#9800f5"/>
<circle cx="370" cy="1379.4" r="3.5" fill="#403bfa"/>
<circle cx="374.5" cy="1379.4" r="3.5" fill="#b300f2"/>
<circle cx="370.8" cy="1386" r="3.5" fill="#fc03d7"/>
<circle cx="373.8" cy="1386" r="3.5" fill="#b300f2"/>
<circle cx="374.5" cy="1391.9" r="3.5" fill="#fc00e4"/>
<circle cx="379.8" cy="1386" r="3.5" fill="#2373f5"/>
<circle cx="384.7" cy="1386" r="3.5" fill="#9800f5"/>
<circle cx="391" cy="1386" r="3.5" fill="#f300e6"/>
<circle cx="393.2" cy="1386" r="3.5" fill="#b300f2"/>
<circle cx="399.2" cy="1386" r="3.5" fill="#2373f5"/>
<circle cx="402.2" cy="1386" r="3.5" fill="#236ef6"/>
<circle cx="406" cy="1386" r="3.5" fill="#3148fa"/>
<circle cx="410.5" cy="1379.4" r="3.5" fill="#403bfa"/>
<circle cx="410.9" cy="1386" r="3.5" fill="#403bfa"/>
<circle cx="415" cy="1386" r="3.5" fill="#236ef6"/>
<circle cx="421.7" cy="1386" r="3.5" fill="#297cf7"/>
<circle cx="424.7" cy="1386" r="3.5" fill="#2373f5"/>
<circle cx="427.4" cy="1373.6" r="3.5" fill="#297cf7"/>
<circle cx="427.4" cy="1379.4" r="3.5" fill="#2355fa"/>
<circle cx="429.9" cy="1386" r="3.5" fill="#4e2efa"/>
<circle cx="428.4" cy="1391.9" r="3.5" fill="#2369f7"/>
<circle cx="436.7" cy="1386" r="3.5" fill="#2355fa"/>
<circle cx="439.2" cy="1379.4" r="3.5" fill="#2355fa"/>
<circle cx="439.7" cy="1386" r="3.5" fill="#2355fa"/>
<circle cx="457.6" cy="1379.4" r="3.5" fill="#2362f8"/>
<circle cx="457.6" cy="1386" r="3.5" fill="#2362f8"/>
<circle cx="465.9" cy="1386" r="3.5" fill="#2369f7"/>
<circle cx="468.1" cy="1379.4" r="3.5" fill="#2369f7"/>
<circle cx="469.6" cy="1386" r="3.5" fill="#2369f7"/>
<circle cx="473.8" cy="1379.4" r="3.5" fill="#2369f7"/>
<circle cx="473.4" cy="1386" r="3.5" fill="#2369f7"/>
<circle cx="480.9" cy="1386" r="3.5" fill="#3148fa"/>
<circle cx="236.5" cy="1436" r="3.5" fill="#ff0d69"/>
<circle cx="259.4" cy="1436" r="3.5" fill="#ff0d69"/>
<circle cx="287.4" cy="1436" r="3.5" fill="#fe09b7"/>
<circle cx="290.7" cy="1436" r="3.5" fill="#ff0d69"/>
<circle cx="291.9" cy="1429.4" r="3.5" fill="#9800f5"/>
<circle cx="298.6" cy="1429.4" r="3.5" fill="#ea00e9"/>
<circle cx="299.4" cy="1436" r="3.5" fill="#fc03d7"/>
<circle cx="303.9" cy="1429.4" r="3.5" fill="#ce00ee"/>
<circle cx="304.6" cy="1436" r="3.5" fill="#f300e6"/>
<circle cx="308.4" cy="1436" r="3.5" fill="#ce00ee"/>
<circle cx="316.2" cy="1436" r="3.5" fill="#a800f3"/>
<circle cx="324.1" cy="1436" r="3.5" fill="#fc03d7"/>
<circle cx="326" cy="1429.4" r="3.5" fill="#fe09b7"/>
<circle cx="327.1" cy="1436" r="3.5" fill="#fc00e4"/>
<circle cx="334.6" cy="1429.4" r="3.5" fill="#fc03d7"/>
<circle cx="334.6" cy="1436" r="3.5" fill="#ce00ee"/>
<circle cx="338.3" cy="1436" r="3.5" fill="#ff0f80"/>
<circle cx="343.1" cy="1429.4" r="3.5" fill="#fc03d7"/>
<circle cx="345.8" cy="1436" r="3.5" fill="#ea00e9"/>
<circle cx="344.6" cy="1441.7" r="3.5" fill="#fd05ca"/>
<circle cx="349.5" cy="1436" r="3.5" fill="#ce00ee"/>
<circle cx="357" cy="1429.4" r="3.5" fill="#297cf7"/>
<circle cx="354" cy="1436" r="3.5" fill="#403bfa"/>
<circle cx="357" cy="1436" r="3.5" fill="#b300f2"/>
<circle cx="365.3" cy="1436" r="3.5" fill="#820af8"/>
<circle cx="390.7" cy="1429.4" r="3.5" fill="#297cf7"/>
<circle cx="388.5" cy="1436" r="3.5" fill="#6c14fa"/>
<circle cx="395.2" cy="1436" r="3.5" fill="#236ef6"/>
<circle cx="397.9" cy="1436" r="3.5" fill="#9800f5"/>
<circle cx="414.7" cy="1429.4" r="3.5" fill="#2369f7"/>
<circle cx="416.2" cy="1436" r="3.5" fill="#235af9"/>
<circle cx="423.7" cy="1429.4" r="3.5" fill="#4e2efa"/>
<circle cx="425.2" cy="1436" r="3.5" fill="#2362f8"/>
<circle cx="435.4" cy="1436" r="3.5" fill="#2373f5"/>
<circle cx="439.4" cy="1436" r="3.5" fill="#3148fa"/>
<circle cx="440.9" cy="1429.4" r="3.5" fill="#3148fa"/>
<circle cx="446.1" cy="1429.4" r="3.5" fill="#2362f8"/>
<circle cx="449.1" cy="1423.7" r="3.5" fill="#297cf7"/>
<circle cx="452.1" cy="1429.4" r="3.5" fill="#3148fa"/>
<circle cx="443.2" cy="1436" r="3.5" fill="#2355fa"/>
<circle cx="447.6" cy="1436" r="3.5" fill="#297cf7"/>
<circle cx="453.6" cy="1436" r="3.5" fill="#236ef6"/>
<circle cx="448.4" cy="1441.7" r="3.5" fill="#235af9"/>
<circle cx="449.1" cy="1448" r="3.5" fill="#2362f8"/>
<circle cx="459.6" cy="1436" r="3.5" fill="#235af9"/>
<circle cx="465.6" cy="1436" r="3.5" fill="#2362f8"/>
<circle cx="308.4" cy="1480.5" r="3.5" fill="#ff0f80"/>
<circle cx="312.9" cy="1480.5" r="3.5" fill="#fc03d7"/>
<circle cx="309.9" cy="1485.9" r="3.5" fill="#ff0d69"/>
<circle cx="314.4" cy="1485.9" r="3.5" fill="#ff0d69"/>
<circle cx="309.9" cy="1491" r="3.5" fill="#ff0d69"/>
<circle cx="321.8" cy="1480.5" r="3.5" fill="#ff0f80"/>
<circle cx="326.3" cy="1480.5" r="3.5" fill="#ff0f80"/>
<circle cx="321.8" cy="1485.9" r="3.5" fill="#ff1096"/>
<circle cx="327.1" cy="1485.9" r="3.5" fill="#ff0f80"/>
<circle cx="335.3" cy="1480.5" r="3.5" fill="#ff0f80"/>
<circle cx="336.1" cy="1485.9" r="3.5" fill="#ff0d69"/>
<circle cx="335.3" cy="1491" r="3.5" fill="#ff0f80"/>
<circle cx="341.8" cy="1471.6" r="3.5" fill="#ff1096"/>
<circle cx="342.1" cy="1476.1" r="3.5" fill="#ff1096"/>
<circle cx="342.8" cy="1480.8" r="3.5" fill="#403bfa"/>
<circle cx="347.3" cy="1480.8" r="3.5" fill="#ff1096"/>
<circle cx="343.6" cy="1485.9" r="3.5" fill="#fe09b7"/>
<circle cx="343.6" cy="1491" r="3.5" fill="#ff1096"/>
<circle cx="341.3" cy="1495.5" r="3.5" fill="#ff1096"/>
<circle cx="341.3" cy="1499.3" r="3.5" fill="#fe09b7"/>
<circle cx="348.8" cy="1485.9" r="3.5" fill="#fe09b7"/>
<circle cx="353.3" cy="1485.9" r="3.5" fill="#fc03d7"/>
<circle cx="359.3" cy="1485.9" r="3.5" fill="#fc03d7"/>
<circle cx="365.3" cy="1485.9" r="3.5" fill="#f300e6"/>
<circle cx="369.8" cy="1485.9" r="3.5" fill="#e400ea"/>
<circle cx="376.1" cy="1480.5" r="3.5" fill="#fe09b7"/>
<circle cx="376.5" cy="1485.9" r="3.5" fill="#fe09b7"/>
<circle cx="375" cy="1491" r="3.5" fill="#fe09b7"/>
<circle cx="397" cy="1480.5" r="3.5" fill="#3a40fa"/>
<circle cx="397.5" cy="1485.9" r="3.5" fill="#be00f0"/>
<circle cx="402.7" cy="1485.9" r="3.5" fill="#fc03d7"/>
<circle cx="405.7" cy="1485.9" r="3.5" fill="#fe09b7"/>
<circle cx="409" cy="1485.9" r="3.5" fill="#236ef6"/>
<circle cx="420.2" cy="1485.9" r="3.5" fill="#fc00e4"/>
<circle cx="432.2" cy="1485.9" r="3.5" fill="#297cf7"/>
<circle cx="443.5" cy="1485.9" r="3.5" fill="#2373f5"/>
<circle cx="449.9" cy="1485.9" r="3.5" fill="#9800f5"/>
<circle cx="453.3" cy="1485.9" r="3.5" fill="#2373f5"/>
<circle cx="456.6" cy="1485.9" r="3.5" fill="#9800f5"/>
<circle cx="481.4" cy="1485.9" r="3.5" fill="#2369f7"/>
<circle cx="483.2" cy="1485.9" r="3.5" fill="#2369f7"/>
<circle cx="487.4" cy="1485.9" r="3.5" fill="#2373f5"/>
<circle cx="518.4" cy="1481" r="3.5" fill="#297cf7"/>
<circle cx="517.7" cy="1485.9" r="3.5" fill="#297cf7"/>
<circle cx="521.4" cy="1485.9" r="3.5" fill="#297cf7"/>
<circle cx="532.3" cy="1485.9" r="3.5" fill="#2369f7"/>
<circle cx="536.4" cy="1485.9" r="3.5" fill="#297cf7"/>
<circle cx="577.6" cy="1485.9" r="3.5" fill="#297cf7"/>
<line x1="182.5" y1="1536.3" x2="819.1" y2="1536.3" stroke="#000" stroke-width="1.6"/>
<line x1="219.1" y1="1536.3" x2="219.1" y2="1542.4" stroke="#333" stroke-width="1.5"/>
<text x="219.1" y="1562.1" font-size="18.5" text-anchor="middle" font-family='"DejaVu Sans","Liberation Sans",sans-serif' stroke="#000" stroke-width="0.3" fill="#111">−0.01</text>
<line x1="326.2" y1="1536.3" x2="326.2" y2="1542.4" stroke="#333" stroke-width="1.5"/>
<text x="326.2" y="1562.1" font-size="18.5" text-anchor="middle" font-family='"DejaVu Sans","Liberation Sans",sans-serif' stroke="#000" stroke-width="0.3" fill="#111">0.00</text>
<line x1="433.3" y1="1536.3" x2="433.3" y2="1542.4" stroke="#333" stroke-width="1.5"/>
<text x="433.3" y="1562.1" font-size="18.5" text-anchor="middle" font-family='"DejaVu Sans","Liberation Sans",sans-serif' stroke="#000" stroke-width="0.3" fill="#111">0.01</text>
<line x1="540.4" y1="1536.3" x2="540.4" y2="1542.4" stroke="#333" stroke-width="1.5"/>
<text x="540.4" y="1562.1" font-size="18.5" text-anchor="middle" font-family='"DejaVu Sans","Liberation Sans",sans-serif' stroke="#000" stroke-width="0.3" fill="#111">0.02</text>
<line x1="647.5" y1="1536.3" x2="647.5" y2="1542.4" stroke="#333" stroke-width="1.5"/>
<text x="647.5" y="1562.1" font-size="18.5" text-anchor="middle" font-family='"DejaVu Sans","Liberation Sans",sans-serif' stroke="#000" stroke-width="0.3" fill="#111">0.03</text>
<line x1="754.6" y1="1536.3" x2="754.6" y2="1542.4" stroke="#333" stroke-width="1.5"/>
<text x="754.6" y="1562.1" font-size="18.5" text-anchor="middle" font-family='"DejaVu Sans","Liberation Sans",sans-serif' stroke="#000" stroke-width="0.3" fill="#111">0.04</text>
<text x="501.1" y="1589.8" font-size="22.12" text-anchor="middle" font-family='"DejaVu Sans","Liberation Sans",sans-serif' stroke="#000" stroke-width="0.3" >SHAP value (impact on model output)</text>
<text x="500.8" y="976.3" font-size="20.35" text-anchor="middle" font-family='"DejaVu Sans","Liberation Sans",sans-serif' stroke="#000" stroke-width="0.3" >Top-10 Features • Arrhythmia Class</text>
<rect x="859" y="986" width="7" height="550.8" fill="url(#cb)"/>
<text x="871.7" y="993.5" font-size="18.9" text-anchor="start" font-family='"DejaVu Sans","Liberation Sans",sans-serif' stroke="#000" stroke-width="0.3" >High</text>
<text x="871.7" y="1543.7" font-size="18.9" text-anchor="start" font-family='"DejaVu Sans","Liberation Sans",sans-serif' stroke="#000" stroke-width="0.3" >Low</text>
<text transform="translate(930.8,1261) rotate(-90)" font-size="20.3" text-anchor="middle" stroke="#000" stroke-width="0.3" font-family='"DejaVu Sans","Liberation Sans",sans-serif'>Feature value</text>
<line x1="1161.7" y1="1036.3" x2="1796.3" y2="1036.3" stroke="#c2c2c2" stroke-width="1" stroke-dasharray="1.3 3.78"/>
<text x="1122.9" y="1045.1" font-size="22.0" text-anchor="end" font-family='"DejaVu Sans","Liberation Sans",sans-serif' stroke="#000" stroke-width="0.3" >Time_347</text>
<line x1="1161.7" y1="1086.3" x2="1796.3" y2="1086.3" stroke="#c2c2c2" stroke-width="1" stroke-dasharray="1.3 3.78"/>
<text x="1122.9" y="1095.1" font-size="22.0" text-anchor="end" font-family='"DejaVu Sans","Liberation Sans",sans-serif' stroke="#000" stroke-width="0.3" >Time_349</text>
<line x1="1161.7" y1="1136.2" x2="1796.3" y2="1136.2" stroke="#c2c2c2" stroke-width="1" stroke-dasharray="1.3 3.78"/>
<text x="1122.9" y="1145" font-size="22.0" text-anchor="end" font-family='"DejaVu Sans","Liberation Sans",sans-serif' stroke="#000" stroke-width="0.3" >Time_345</text>
<line x1="1161.7" y1="1186.2" x2="1796.3" y2="1186.2" stroke="#c2c2c2" stroke-width="1" stroke-dasharray="1.3 3.78"/>
<text x="1122.9" y="1195" font-size="22.0" text-anchor="end" font-family='"DejaVu Sans","Liberation Sans",sans-serif' stroke="#000" stroke-width="0.3" >Time_366</text>
<line x1="1161.7" y1="1236.1" x2="1796.3" y2="1236.1" stroke="#c2c2c2" stroke-width="1" stroke-dasharray="1.3 3.78"/>
<text x="1122.9" y="1244.9" font-size="22.0" text-anchor="end" font-family='"DejaVu Sans","Liberation Sans",sans-serif' stroke="#000" stroke-width="0.3" >Time_362</text>
<line x1="1161.7" y1="1286.1" x2="1796.3" y2="1286.1" stroke="#c2c2c2" stroke-width="1" stroke-dasharray="1.3 3.78"/>
<text x="1122.9" y="1294.9" font-size="22.0" text-anchor="end" font-family='"DejaVu Sans","Liberation Sans",sans-serif' stroke="#000" stroke-width="0.3" >Time_360</text>
<line x1="1161.7" y1="1336.1" x2="1796.3" y2="1336.1" stroke="#c2c2c2" stroke-width="1" stroke-dasharray="1.3 3.78"/>
<text x="1122.9" y="1344.9" font-size="22.0" text-anchor="end" font-family='"DejaVu Sans","Liberation Sans",sans-serif' stroke="#000" stroke-width="0.3" >Time_352</text>
<line x1="1161.7" y1="1386" x2="1796.3" y2="1386" stroke="#c2c2c2" stroke-width="1" stroke-dasharray="1.3 3.78"/>
<text x="1122.9" y="1394.8" font-size="22.0" text-anchor="end" font-family='"DejaVu Sans","Liberation Sans",sans-serif' stroke="#000" stroke-width="0.3" >Time_358</text>
<line x1="1161.7" y1="1436" x2="1796.3" y2="1436" stroke="#c2c2c2" stroke-width="1" stroke-dasharray="1.3 3.78"/>
<text x="1122.9" y="1444.8" font-size="22.0" text-anchor="end" font-family='"DejaVu Sans","Liberation Sans",sans-serif' stroke="#000" stroke-width="0.3" >Time_379</text>
<line x1="1161.7" y1="1485.9" x2="1796.3" y2="1485.9" stroke="#c2c2c2" stroke-width="1" stroke-dasharray="1.3 3.78"/>
<text x="1122.9" y="1494.7" font-size="22.0" text-anchor="end" font-family='"DejaVu Sans","Liberation Sans",sans-serif' stroke="#000" stroke-width="0.3" >Time_381</text>
<line x1="1679.9" y1="986" x2="1679.9" y2="1536.3" stroke="#999" stroke-width="2.55"/>
<circle cx="1297.4" cy="1036.3" r="3.5" fill="#a800f3"/>
<circle cx="1317.6" cy="1036.3" r="3.5" fill="#de00ec"/>
<circle cx="1324.1" cy="1036.3" r="3.5" fill="#be00f0"/>
<circle cx="1359.1" cy="1036.3" r="3.5" fill="#b300f2"/>
<circle cx="1365.5" cy="1036.3" r="3.5" fill="#c300ef"/>
<circle cx="1417.2" cy="1036.3" r="3.5" fill="#a800f3"/>
<circle cx="1425.9" cy="1030" r="3.5" fill="#631cfa"/>
<circle cx="1427.4" cy="1036.3" r="3.5" fill="#a800f3"/>
<circle cx="1432.5" cy="1036.3" r="3.5" fill="#be00f0"/>
<circle cx="1434.4" cy="1036.3" r="3.5" fill="#be00f0"/>
<circle cx="1244.2" cy="1086.3" r="3.5" fill="#8b06f6"/>
<circle cx="1288.4" cy="1086.3" r="3.5" fill="#be00f0"/>
<circle cx="1344.1" cy="1086.3" r="3.5" fill="#a300f4"/>
<circle cx="1393.2" cy="1086.3" r="3.5" fill="#7510f9"/>
<circle cx="1401.5" cy="1086.3" r="3.5" fill="#b300f2"/>
<circle cx="1409.4" cy="1086.3" r="3.5" fill="#a300f4"/>
<circle cx="1467.8" cy="1086.3" r="3.5" fill="#c300ef"/>
<circle cx="1498" cy="1036.3" r="3.5" fill="#ea00e9"/>
<circle cx="1538.9" cy="1036.3" r="3.5" fill="#297cf7"/>
<circle cx="1541.4" cy="1036.3" r="3.5" fill="#ea00e9"/>
<circle cx="1548.9" cy="1036.3" r="3.5" fill="#2373f5"/>
<circle cx="1552.9" cy="1036.3" r="3.5" fill="#9800f5"/>
<circle cx="1556.4" cy="1036.3" r="3.5" fill="#ff0d69"/>
<circle cx="1560.9" cy="1036.3" r="3.5" fill="#ff0d69"/>
<circle cx="1560.4" cy="1030" r="3.5" fill="#b300f2"/>
<circle cx="1590.8" cy="1036.3" r="3.5" fill="#9800f5"/>
<circle cx="1593.5" cy="1030" r="3.5" fill="#ff0d69"/>
<circle cx="1593.1" cy="1036.3" r="3.5" fill="#4e2efa"/>
<circle cx="1600.3" cy="1036.3" r="3.5" fill="#297cf7"/>
<circle cx="1621.5" cy="1030" r="3.5" fill="#3a40fa"/>
<circle cx="1624.2" cy="1036.3" r="3.5" fill="#236ef6"/>
<circle cx="1629.3" cy="1036.3" r="3.5" fill="#297cf7"/>
<circle cx="1632.8" cy="1030" r="3.5" fill="#a300f4"/>
<circle cx="1647" cy="1036.3" r="3.5" fill="#403bfa"/>
<circle cx="1651.5" cy="1036.3" r="3.5" fill="#403bfa"/>
<circle cx="1659.7" cy="1036.3" r="3.5" fill="#3148fa"/>
<circle cx="1661.5" cy="1024" r="3.5" fill="#4536fa"/>
<circle cx="1661.5" cy="1030" r="3.5" fill="#4e2efa"/>
<circle cx="1661.5" cy="1042" r="3.5" fill="#8b06f6"/>
<circle cx="1666.5" cy="1036.3" r="3.5" fill="#3a40fa"/>
<circle cx="1675.4" cy="1036.3" r="3.5" fill="#3148fa"/>
<circle cx="1679.9" cy="1030" r="3.5" fill="#2369f7"/>
<circle cx="1679.9" cy="1036.3" r="3.5" fill="#2369f7"/>
<circle cx="1679.6" cy="1042" r="3.5" fill="#ff0d69"/>
<circle cx="1684.9" cy="1036.3" r="3.5" fill="#3a40fa"/>
<circle cx="1714.4" cy="1036.3" r="3.5" fill="#2950fa"/>
<circle cx="1491.2" cy="1086.3" r="3.5" fill="#9800f5"/>
<circle cx="1495" cy="1086.3" r="3.5" fill="#ea00e9"/>
<circle cx="1525.7" cy="1086.3" r="3.5" fill="#ff0d69"/>
<circle cx="1530.2" cy="1079.7" r="3.5" fill="#ea00e9"/>
<circle cx="1530.2" cy="1086.3" r="3.5" fill="#820af8"/>
<circle cx="1528.4" cy="1092.1" r="3.5" fill="#8b06f6"/>
<circle cx="1552.6" cy="1086.3" r="3.5" fill="#820af8"/>
<circle cx="1557.4" cy="1086.3" r="3.5" fill="#9800f5"/>
<circle cx="1566.4" cy="1079.7" r="3.5" fill="#ff0d69"/>
<circle cx="1566.4" cy="1086.3" r="3.5" fill="#b300f2"/>
<circle cx="1585.3" cy="1086.3" r="3.5" fill="#403bfa"/>
<circle cx="1588.6" cy="1086.3" r="3.5" fill="#ff0d69"/>
<circle cx="1593.8" cy="1086.3" r="3.5" fill="#ff0d69"/>
<circle cx="1643.5" cy="1079.7" r="3.5" fill="#2950fa"/>
<circle cx="1642.9" cy="1086.3" r="3.5" fill="#2369f7"/>
<circle cx="1643.2" cy="1092.1" r="3.5" fill="#236ef6"/>
<circle cx="1655.2" cy="1079.7" r="3.5" fill="#2369f7"/>
<circle cx="1657.9" cy="1086.3" r="3.5" fill="#297cf7"/>
<circle cx="1660.9" cy="1086.3" r="3.5" fill="#403bfa"/>
<circle cx="1679.2" cy="1086.3" r="3.5" fill="#2373f5"/>
<circle cx="1682.2" cy="1079.7" r="3.5" fill="#3148fa"/>
<circle cx="1684.4" cy="1073.8" r="3.5" fill="#2355fa"/>
<circle cx="1687.4" cy="1079.7" r="3.5" fill="#297cf7"/>
<circle cx="1686.4" cy="1086.3" r="3.5" fill="#3a40fa"/>
<circle cx="1685.2" cy="1092.1" r="3.5" fill="#297cf7"/>
<circle cx="1691.2" cy="1079.7" r="3.5" fill="#3a40fa"/>
<circle cx="1691.5" cy="1086.3" r="3.5" fill="#9800f5"/>
<circle cx="1699.7" cy="1079.7" r="3.5" fill="#3148fa"/>
<circle cx="1700.2" cy="1086.3" r="3.5" fill="#3148fa"/>
<circle cx="1699.4" cy="1092.1" r="3.5" fill="#3148fa"/>
<circle cx="1708.8" cy="1086.3" r="3.5" fill="#2362f8"/>
<circle cx="1718.9" cy="1086.3" r="3.5" fill="#2950fa"/>
<circle cx="1191.2" cy="1136.2" r="3.5" fill="#ff0d69"/>
<circle cx="1418.9" cy="1136.2" r="3.5" fill="#6c14fa"/>
<circle cx="1431.9" cy="1136.2" r="3.5" fill="#b300f2"/>
<circle cx="1385.5" cy="1186.2" r="3.5" fill="#ff0d69"/>
<circle cx="1390.4" cy="1186.2" r="3.5" fill="#ff0d69"/>
<circle cx="1453.9" cy="1136.2" r="3.5" fill="#be00f0"/>
<circle cx="1481.6" cy="1136.2" r="3.5" fill="#6c14fa"/>
<circle cx="1500.4" cy="1136.2" r="3.5" fill="#be00f0"/>
<circle cx="1510.8" cy="1136.2" r="3.5" fill="#297cf7"/>
<circle cx="1521.3" cy="1136.2" r="3.5" fill="#9800f5"/>
<circle cx="1540.3" cy="1136.2" r="3.5" fill="#297cf7"/>
<circle cx="1542.3" cy="1126.9" r="3.5" fill="#ea00e9"/>
<circle cx="1555.3" cy="1126.9" r="3.5" fill="#4e2efa"/>
<circle cx="1561.8" cy="1126.9" r="3.5" fill="#297cf7"/>
<circle cx="1556.8" cy="1136.2" r="3.5" fill="#ce00ee"/>
<circle cx="1564.8" cy="1136.2" r="3.5" fill="#e400ea"/>
<circle cx="1560.6" cy="1145.4" r="3.5" fill="#5726fa"/>
<circle cx="1574.3" cy="1136.2" r="3.5" fill="#ea00e9"/>
<circle cx="1580.8" cy="1136.2" r="3.5" fill="#f300e6"/>
<circle cx="1586.3" cy="1136.2" r="3.5" fill="#4e2efa"/>
<circle cx="1589" cy="1126.9" r="3.5" fill="#b300f2"/>
<circle cx="1592.8" cy="1136.2" r="3.5" fill="#297cf7"/>
<circle cx="1597.3" cy="1136.2" r="3.5" fill="#ff0d69"/>
<circle cx="1605.5" cy="1136.2" r="3.5" fill="#ea00e9"/>
<circle cx="1610.7" cy="1136.2" r="3.5" fill="#9800f5"/>
<circle cx="1619" cy="1136.2" r="3.5" fill="#9800f5"/>
<circle cx="1622.7" cy="1136.2" r="3.5" fill="#5d21fa"/>
<circle cx="1625.4" cy="1126.9" r="3.5" fill="#fd05ca"/>
<circle cx="1629.9" cy="1136.2" r="3.5" fill="#b300f2"/>
<circle cx="1634.7" cy="1136.2" r="3.5" fill="#236ef6"/>
<circle cx="1636.6" cy="1126.9" r="3.5" fill="#be00f0"/>
<circle cx="1638.4" cy="1136.2" r="3.5" fill="#403bfa"/>
<circle cx="1633.9" cy="1145.4" r="3.5" fill="#5d21fa"/>
<circle cx="1651.9" cy="1136.2" r="3.5" fill="#403bfa"/>
<circle cx="1656.7" cy="1136.2" r="3.5" fill="#3a40fa"/>
<circle cx="1664.4" cy="1136.2" r="3.5" fill="#5d21fa"/>
<circle cx="1670.6" cy="1136.2" r="3.5" fill="#2362f8"/>
<circle cx="1675.4" cy="1136.2" r="3.5" fill="#ff0d69"/>
<circle cx="1691.9" cy="1136.2" r="3.5" fill="#3148fa"/>
<circle cx="1448.7" cy="1186.2" r="3.5" fill="#be00f0"/>
<circle cx="1480.4" cy="1186.2" r="3.5" fill="#ea00e9"/>
<circle cx="1514.9" cy="1186.2" r="3.5" fill="#f300e6"/>
<circle cx="1519.8" cy="1186.2" r="3.5" fill="#fd05ca"/>
<circle cx="1527.9" cy="1186.2" r="3.5" fill="#5d21fa"/>
<circle cx="1536.9" cy="1186.2" r="3.5" fill="#fc03d7"/>
<circle cx="1538.8" cy="1177" r="3.5" fill="#ff0f8d"/>
<circle cx="1548.3" cy="1186.2" r="3.5" fill="#ff0d69"/>
<circle cx="1554.1" cy="1186.2" r="3.5" fill="#be00f0"/>
<circle cx="1563.3" cy="1177" r="3.5" fill="#f300e6"/>
<circle cx="1569.5" cy="1177" r="3.5" fill="#b300f2"/>
<circle cx="1563.3" cy="1186.2" r="3.5" fill="#5d21fa"/>
<circle cx="1569.5" cy="1186.2" r="3.5" fill="#a800f3"/>
<circle cx="1572.5" cy="1186.2" r="3.5" fill="#b300f2"/>
<circle cx="1575.2" cy="1186.2" r="3.5" fill="#4e2efa"/>
<circle cx="1567.3" cy="1195.3" r="3.5" fill="#be00f0"/>
<circle cx="1587.5" cy="1186.2" r="3.5" fill="#fe0da3"/>
<circle cx="1598.5" cy="1186.2" r="3.5" fill="#5d21fa"/>
<circle cx="1602.5" cy="1186.2" r="3.5" fill="#820af8"/>
<circle cx="1601.4" cy="1177" r="3.5" fill="#ff1096"/>
<circle cx="1609.7" cy="1177" r="3.5" fill="#ff0d69"/>
<circle cx="1609.2" cy="1186.2" r="3.5" fill="#4e2efa"/>
<circle cx="1614.5" cy="1186.2" r="3.5" fill="#ff0f8d"/>
<circle cx="1617.9" cy="1177" r="3.5" fill="#3148fa"/>
<circle cx="1623" cy="1186.2" r="3.5" fill="#fe09b7"/>
<circle cx="1629.9" cy="1186.2" r="3.5" fill="#2369f7"/>
<circle cx="1632" cy="1177" r="3.5" fill="#2355fa"/>
<circle cx="1637.7" cy="1177" r="3.5" fill="#5d21fa"/>
<circle cx="1642.9" cy="1177" r="3.5" fill="#f300e6"/>
<circle cx="1636.9" cy="1186.2" r="3.5" fill="#403bfa"/>
<circle cx="1641.7" cy="1186.2" r="3.5" fill="#403bfa"/>
<circle cx="1657.2" cy="1186.2" r="3.5" fill="#2362f8"/>
<circle cx="1660.9" cy="1186.2" r="3.5" fill="#297cf7"/>
<circle cx="1702.3" cy="1136.2" r="3.5" fill="#b300f2"/>
<circle cx="1707.1" cy="1136.2" r="3.5" fill="#fe09b7"/>
<circle cx="1703.5" cy="1186.2" r="3.5" fill="#297cf7"/>
<circle cx="1758.1" cy="1186.2" r="3.5" fill="#297cf7"/>
<circle cx="1474.7" cy="1236.1" r="3.5" fill="#ff0f80"/>
<circle cx="1486.1" cy="1236.1" r="3.5" fill="#ff0d69"/>
<circle cx="1488.2" cy="1236.1" r="3.5" fill="#ff0d69"/>
<circle cx="1518.2" cy="1229.8" r="3.5" fill="#ce00ee"/>
<circle cx="1518.3" cy="1236.1" r="3.5" fill="#ff0d69"/>
<circle cx="1530.2" cy="1236.1" r="3.5" fill="#ff0d69"/>
<circle cx="1545.3" cy="1236.1" r="3.5" fill="#be00f0"/>
<circle cx="1554.6" cy="1236.1" r="3.5" fill="#4e2efa"/>
<circle cx="1559.1" cy="1236.1" r="3.5" fill="#b300f2"/>
<circle cx="1562.1" cy="1236.1" r="3.5" fill="#ea00e9"/>
<circle cx="1561.3" cy="1229.8" r="3.5" fill="#ff0f80"/>
<circle cx="1566.6" cy="1229.8" r="3.5" fill="#ff0f80"/>
<circle cx="1568.8" cy="1236.1" r="3.5" fill="#2362f8"/>
<circle cx="1571.8" cy="1236.1" r="3.5" fill="#de00ec"/>
<circle cx="1575.5" cy="1236.1" r="3.5" fill="#de00ec"/>
<circle cx="1581.8" cy="1229.8" r="3.5" fill="#2355fa"/>
<circle cx="1587.8" cy="1229.8" r="3.5" fill="#631cfa"/>
<circle cx="1583" cy="1236.1" r="3.5" fill="#b300f2"/>
<circle cx="1586.8" cy="1236.1" r="3.5" fill="#e400ea"/>
<circle cx="1583.8" cy="1241.8" r="3.5" fill="#820af8"/>
<circle cx="1589.3" cy="1241.8" r="3.5" fill="#403bfa"/>
<circle cx="1598" cy="1236.1" r="3.5" fill="#9800f5"/>
<circle cx="1601" cy="1236.1" r="3.5" fill="#6c14fa"/>
<circle cx="1605.5" cy="1236.1" r="3.5" fill="#5d21fa"/>
<circle cx="1610.7" cy="1236.1" r="3.5" fill="#b300f2"/>
<circle cx="1613.7" cy="1229.8" r="3.5" fill="#2373f5"/>
<circle cx="1615.2" cy="1223.9" r="3.5" fill="#2950fa"/>
<circle cx="1617.5" cy="1229.8" r="3.5" fill="#4536fa"/>
<circle cx="1616" cy="1236.1" r="3.5" fill="#403bfa"/>
<circle cx="1620.5" cy="1236.1" r="3.5" fill="#2362f8"/>
<circle cx="1613.7" cy="1241.8" r="3.5" fill="#4e2efa"/>
<circle cx="1628.7" cy="1236.1" r="3.5" fill="#236ef6"/>
<circle cx="1635.4" cy="1236.1" r="3.5" fill="#8b06f6"/>
<circle cx="1674.4" cy="1236.1" r="3.5" fill="#297cf7"/>
<circle cx="1492.4" cy="1286.1" r="3.5" fill="#ff0d69"/>
<circle cx="1500.2" cy="1286.1" r="3.5" fill="#ea00e9"/>
<circle cx="1519.4" cy="1286.1" r="3.5" fill="#ff0d69"/>
<circle cx="1545.1" cy="1286.1" r="3.5" fill="#ff0d69"/>
<circle cx="1556.1" cy="1286.1" r="3.5" fill="#5726fa"/>
<circle cx="1571.8" cy="1286.1" r="3.5" fill="#b300f2"/>
<circle cx="1576" cy="1286.1" r="3.5" fill="#fe09b7"/>
<circle cx="1578.5" cy="1279.5" r="3.5" fill="#ea00e9"/>
<circle cx="1584.5" cy="1286.1" r="3.5" fill="#2355fa"/>
<circle cx="1587.5" cy="1279.5" r="3.5" fill="#be00f0"/>
<circle cx="1589.8" cy="1279.5" r="3.5" fill="#b300f2"/>
<circle cx="1589" cy="1291.9" r="3.5" fill="#e400ea"/>
<circle cx="1595" cy="1279.5" r="3.5" fill="#e400ea"/>
<circle cx="1594.3" cy="1286.1" r="3.5" fill="#820af8"/>
<circle cx="1599.5" cy="1286.1" r="3.5" fill="#4e2efa"/>
<circle cx="1602.5" cy="1279.5" r="3.5" fill="#e400ea"/>
<circle cx="1604" cy="1279.5" r="3.5" fill="#e400ea"/>
<circle cx="1604" cy="1286.1" r="3.5" fill="#5d21fa"/>
<circle cx="1610.7" cy="1286.1" r="3.5" fill="#6c14fa"/>
<circle cx="1613.4" cy="1279.5" r="3.5" fill="#a800f3"/>
<circle cx="1616.7" cy="1286.1" r="3.5" fill="#5d21fa"/>
<circle cx="1619.7" cy="1286.1" r="3.5" fill="#5d21fa"/>
<circle cx="1623.5" cy="1286.1" r="3.5" fill="#b300f2"/>
<circle cx="1625.7" cy="1273.7" r="3.5" fill="#5d21fa"/>
<circle cx="1625.7" cy="1279.5" r="3.5" fill="#3a40fa"/>
<circle cx="1627.2" cy="1291.9" r="3.5" fill="#297cf7"/>
<circle cx="1626" cy="1297.9" r="3.5" fill="#2950fa"/>
<circle cx="1631" cy="1286.1" r="3.5" fill="#403bfa"/>
<circle cx="1647.4" cy="1286.1" r="3.5" fill="#236ef6"/>
<circle cx="1662.1" cy="1286.1" r="3.5" fill="#297cf7"/>
<circle cx="1765.9" cy="1236.1" r="3.5" fill="#297cf7"/>
<circle cx="1745.3" cy="1286.1" r="3.5" fill="#297cf7"/>
<circle cx="1434.1" cy="1286.1" r="3.5" fill="#ff0d69"/>
<circle cx="1461" cy="1336.1" r="3.5" fill="#de00ec"/>
<circle cx="1476.7" cy="1336.1" r="3.5" fill="#ea00e9"/>
<circle cx="1479.2" cy="1336.1" r="3.5" fill="#be00f0"/>
<circle cx="1500.7" cy="1336.1" r="3.5" fill="#ff1096"/>
<circle cx="1502.9" cy="1336.1" r="3.5" fill="#fe0da3"/>
<circle cx="1528.1" cy="1336.1" r="3.5" fill="#be00f0"/>
<circle cx="1545.3" cy="1336.1" r="3.5" fill="#9800f5"/>
<circle cx="1551.1" cy="1336.1" r="3.5" fill="#fe09b7"/>
<circle cx="1559.8" cy="1336.1" r="3.5" fill="#9800f5"/>
<circle cx="1564.3" cy="1336.1" r="3.5" fill="#9800f5"/>
<circle cx="1575.2" cy="1336.1" r="3.5" fill="#ff0f80"/>
<circle cx="1580.8" cy="1326.8" r="3.5" fill="#ff0d69"/>
<circle cx="1580.8" cy="1336.1" r="3.5" fill="#ff0f80"/>
<circle cx="1583.3" cy="1336.1" r="3.5" fill="#ff0f80"/>
<circle cx="1591" cy="1336.1" r="3.5" fill="#ff0f80"/>
<circle cx="1595.8" cy="1336.1" r="3.5" fill="#ff0d69"/>
<circle cx="1600" cy="1336.1" r="3.5" fill="#790ef8"/>
<circle cx="1607" cy="1336.1" r="3.5" fill="#6c14fa"/>
<circle cx="1609.2" cy="1326.8" r="3.5" fill="#ff0d69"/>
<circle cx="1610.4" cy="1336.1" r="3.5" fill="#235af9"/>
<circle cx="1616.7" cy="1336.1" r="3.5" fill="#3a40fa"/>
<circle cx="1618.5" cy="1326.8" r="3.5" fill="#297cf7"/>
<circle cx="1622" cy="1336.1" r="3.5" fill="#fc03d7"/>
<circle cx="1624.5" cy="1336.1" r="3.5" fill="#ff0d69"/>
<circle cx="1626.2" cy="1326.8" r="3.5" fill="#6c14fa"/>
<circle cx="1628" cy="1336.1" r="3.5" fill="#297cf7"/>
<circle cx="1634.2" cy="1336.1" r="3.5" fill="#ea00e9"/>
<circle cx="1635.1" cy="1326.8" r="3.5" fill="#3148fa"/>
<circle cx="1638.9" cy="1336.1" r="3.5" fill="#8b06f6"/>
<circle cx="1640.7" cy="1336.1" r="3.5" fill="#ff1096"/>
<circle cx="1648.5" cy="1326.8" r="3.5" fill="#3148fa"/>
<circle cx="1648.5" cy="1336.1" r="3.5" fill="#631cfa"/>
<circle cx="1649.4" cy="1345.2" r="3.5" fill="#fe09b7"/>
<circle cx="1656.1" cy="1336.1" r="3.5" fill="#9800f5"/>
<circle cx="1666.4" cy="1326.8" r="3.5" fill="#3148fa"/>
<circle cx="1667.3" cy="1336.1" r="3.5" fill="#297cf7"/>
<circle cx="1674.8" cy="1336.1" r="3.5" fill="#2355fa"/>
<circle cx="1529.4" cy="1376.9" r="3.5" fill="#ff0d69"/>
<circle cx="1529.9" cy="1386" r="3.5" fill="#ff0d69"/>
<circle cx="1550.5" cy="1386" r="3.5" fill="#ea00e9"/>
<circle cx="1577.3" cy="1386" r="3.5" fill="#ff1096"/>
<circle cx="1585.3" cy="1386" r="3.5" fill="#a800f3"/>
<circle cx="1587.2" cy="1376.9" r="3.5" fill="#f300e6"/>
<circle cx="1589.5" cy="1386" r="3.5" fill="#403bfa"/>
<circle cx="1595" cy="1386" r="3.5" fill="#b300f2"/>
<circle cx="1597" cy="1376.9" r="3.5" fill="#5726fa"/>
<circle cx="1597.3" cy="1386" r="3.5" fill="#4e2efa"/>
<circle cx="1603.2" cy="1386" r="3.5" fill="#ce00ee"/>
<circle cx="1604.7" cy="1376.9" r="3.5" fill="#4e2efa"/>
<circle cx="1607.4" cy="1376.9" r="3.5" fill="#fe09b7"/>
<circle cx="1607.7" cy="1386" r="3.5" fill="#a800f3"/>
<circle cx="1611.8" cy="1376.9" r="3.5" fill="#4e2efa"/>
<circle cx="1613.7" cy="1386" r="3.5" fill="#fd05ca"/>
<circle cx="1611.9" cy="1395.2" r="3.5" fill="#b300f2"/>
<circle cx="1619" cy="1386" r="3.5" fill="#820af8"/>
<circle cx="1624.5" cy="1386" r="3.5" fill="#ce00ee"/>
<circle cx="1629" cy="1376.9" r="3.5" fill="#3a40fa"/>
<circle cx="1629.5" cy="1386" r="3.5" fill="#4e2efa"/>
<circle cx="1632.2" cy="1386" r="3.5" fill="#e400ea"/>
<circle cx="1644.1" cy="1386" r="3.5" fill="#403bfa"/>
<circle cx="1646.7" cy="1386" r="3.5" fill="#4e2efa"/>
<circle cx="1662.4" cy="1386" r="3.5" fill="#297cf7"/>
<circle cx="1677.7" cy="1386" r="3.5" fill="#2369f7"/>
<circle cx="1684.4" cy="1386" r="3.5" fill="#297cf7"/>
<circle cx="1688.9" cy="1386" r="3.5" fill="#297cf7"/>
<circle cx="1759.9" cy="1336.1" r="3.5" fill="#297cf7"/>
<circle cx="1428.8" cy="1436" r="3.5" fill="#236ef6"/>
<circle cx="1449.7" cy="1436" r="3.5" fill="#236ef6"/>
<circle cx="1482.1" cy="1436" r="3.5" fill="#297cf7"/>
<circle cx="1490.6" cy="1436" r="3.5" fill="#297cf7"/>
<circle cx="1500" cy="1436" r="3.5" fill="#297cf7"/>
<circle cx="1551" cy="1429.4" r="3.5" fill="#9800f5"/>
<circle cx="1549.8" cy="1436" r="3.5" fill="#ff0d69"/>
<circle cx="1562.5" cy="1436" r="3.5" fill="#2369f7"/>
<circle cx="1572.2" cy="1436" r="3.5" fill="#ea00e9"/>
<circle cx="1582.3" cy="1436" r="3.5" fill="#5d21fa"/>
<circle cx="1611.2" cy="1436" r="3.5" fill="#b300f2"/>
<circle cx="1614.9" cy="1436" r="3.5" fill="#ff0d69"/>
<circle cx="1616.9" cy="1429.4" r="3.5" fill="#be00f0"/>
<circle cx="1622.4" cy="1429.4" r="3.5" fill="#820af8"/>
<circle cx="1619.9" cy="1441.7" r="3.5" fill="#3148fa"/>
<circle cx="1622.4" cy="1436" r="3.5" fill="#a800f3"/>
<circle cx="1629.1" cy="1436" r="3.5" fill="#820af8"/>
<circle cx="1629.9" cy="1423.7" r="3.5" fill="#297cf7"/>
<circle cx="1629.9" cy="1429.4" r="3.5" fill="#de00ec"/>
<circle cx="1629.4" cy="1441.7" r="3.5" fill="#9800f5"/>
<circle cx="1629.6" cy="1448" r="3.5" fill="#9800f5"/>
<circle cx="1634.8" cy="1436" r="3.5" fill="#2373f5"/>
<circle cx="1641.9" cy="1436" r="3.5" fill="#e400ea"/>
<circle cx="1645.6" cy="1429.4" r="3.5" fill="#5726fa"/>
<circle cx="1648.6" cy="1436" r="3.5" fill="#a800f3"/>
<circle cx="1653.6" cy="1429.4" r="3.5" fill="#ff0f80"/>
<circle cx="1653.9" cy="1436" r="3.5" fill="#ff0d69"/>
<circle cx="1658.3" cy="1436" r="3.5" fill="#fc03d7"/>
<circle cx="1466.9" cy="1485.9" r="3.5" fill="#236ef6"/>
<circle cx="1471.4" cy="1485.9" r="3.5" fill="#236ef6"/>
<circle cx="1518" cy="1485.9" r="3.5" fill="#2369f7"/>
<circle cx="1539.6" cy="1485.9" r="3.5" fill="#a800f3"/>
<circle cx="1569.2" cy="1485.9" r="3.5" fill="#be00f0"/>
<circle cx="1573" cy="1476.8" r="3.5" fill="#297cf7"/>
<circle cx="1573.4" cy="1485.9" r="3.5" fill="#236ef6"/>
<circle cx="1580" cy="1485.9" r="3.5" fill="#9800f5"/>
<circle cx="1588" cy="1485.9" r="3.5" fill="#2369f7"/>
<circle cx="1588.4" cy="1476.8" r="3.5" fill="#b300f2"/>
<circle cx="1603.2" cy="1485.9" r="3.5" fill="#8b06f6"/>
<circle cx="1610.9" cy="1476.8" r="3.5" fill="#ce00ee"/>
<circle cx="1613.9" cy="1476.8" r="3.5" fill="#820af8"/>
<circle cx="1611.5" cy="1485.9" r="3.5" fill="#5d21fa"/>
<circle cx="1614.2" cy="1485.9" r="3.5" fill="#820af8"/>
<circle cx="1611.2" cy="1495.1" r="3.5" fill="#297cf7"/>
<circle cx="1627.6" cy="1476.8" r="3.5" fill="#b300f2"/>
<circle cx="1632.9" cy="1476.8" r="3.5" fill="#4e2efa"/>
<circle cx="1637.8" cy="1476.8" r="3.5" fill="#9800f5"/>
<circle cx="1627.6" cy="1485.9" r="3.5" fill="#820af8"/>
<circle cx="1632.1" cy="1485.9" r="3.5" fill="#631cfa"/>
<circle cx="1637.4" cy="1485.9" r="3.5" fill="#8b06f6"/>
<circle cx="1634.4" cy="1495.1" r="3.5" fill="#9800f5"/>
<circle cx="1638.1" cy="1495.1" r="3.5" fill="#9800f5"/>
<circle cx="1647.9" cy="1485.9" r="3.5" fill="#5d21fa"/>
<circle cx="1653.1" cy="1485.9" r="3.5" fill="#9800f5"/>
<circle cx="1657.6" cy="1485.9" r="3.5" fill="#9800f5"/>
<circle cx="1664.4" cy="1429.4" r="3.5" fill="#fc03d7"/>
<circle cx="1663.3" cy="1436" r="3.5" fill="#fe09b7"/>
<circle cx="1664.4" cy="1441.7" r="3.5" fill="#be00f0"/>
<circle cx="1670.1" cy="1436" r="3.5" fill="#be00f0"/>
<circle cx="1690" cy="1436" r="3.5" fill="#ff0f80"/>
<circle cx="1691.8" cy="1436" r="3.5" fill="#ff0f80"/>
<circle cx="1711.6" cy="1436" r="3.5" fill="#ff0d69"/>
<circle cx="1662.6" cy="1485.9" r="3.5" fill="#9800f5"/>
<circle cx="1670.8" cy="1485.9" r="3.5" fill="#297cf7"/>
<circle cx="1676.8" cy="1485.9" r="3.5" fill="#ea00e9"/>
<circle cx="1681.6" cy="1485.9" r="3.5" fill="#de00ec"/>
<circle cx="1687.8" cy="1485.9" r="3.5" fill="#f300e6"/>
<circle cx="1693.6" cy="1485.9" r="3.5" fill="#f300e6"/>
<circle cx="1726.2" cy="1485.9" r="3.5" fill="#ff0d69"/>
<circle cx="1738.5" cy="1485.9" r="3.5" fill="#ff0d69"/>
<circle cx="1749.5" cy="1485.9" r="3.5" fill="#ff0d69"/>
<circle cx="1769.2" cy="1485.9" r="3.5" fill="#fd05ca"/>
<line x1="1161.7" y1="1536.3" x2="1798.3" y2="1536.3" stroke="#000" stroke-width="1.6"/>
<line x1="1246.4" y1="1536.3" x2="1246.4" y2="1542.4" stroke="#333" stroke-width="1.5"/>
<text x="1246.4" y="1562.1" font-size="18.5" text-anchor="middle" font-family='"DejaVu Sans","Liberation Sans",sans-serif' stroke="#000" stroke-width="0.3" fill="#111">−0.025</text>
<line x1="1333.1" y1="1536.3" x2="1333.1" y2="1542.4" stroke="#333" stroke-width="1.5"/>
<text x="1333.1" y="1562.1" font-size="18.5" text-anchor="middle" font-family='"DejaVu Sans","Liberation Sans",sans-serif' stroke="#000" stroke-width="0.3" fill="#111">−0.020</text>
<line x1="1419.8" y1="1536.3" x2="1419.8" y2="1542.4" stroke="#333" stroke-width="1.5"/>
<text x="1419.8" y="1562.1" font-size="18.5" text-anchor="middle" font-family='"DejaVu Sans","Liberation Sans",sans-serif' stroke="#000" stroke-width="0.3" fill="#111">−0.015</text>
<line x1="1506.5" y1="1536.3" x2="1506.5" y2="1542.4" stroke="#333" stroke-width="1.5"/>
<text x="1506.5" y="1562.1" font-size="18.5" text-anchor="middle" font-family='"DejaVu Sans","Liberation Sans",sans-serif' stroke="#000" stroke-width="0.3" fill="#111">−0.010</text>
<line x1="1593.2" y1="1536.3" x2="1593.2" y2="1542.4" stroke="#333" stroke-width="1.5"/>
<text x="1593.2" y="1562.1" font-size="18.5" text-anchor="middle" font-family='"DejaVu Sans","Liberation Sans",sans-serif' stroke="#000" stroke-width="0.3" fill="#111">−0.005</text>
<line x1="1679.9" y1="1536.3" x2="1679.9" y2="1542.4" stroke="#333" stroke-width="1.5"/>
<text x="1679.9" y="1562.1" font-size="18.5" text-anchor="middle" font-family='"DejaVu Sans","Liberation Sans",sans-serif' stroke="#000" stroke-width="0.3" fill="#111">0.000</text>
<line x1="1766.6" y1="1536.3" x2="1766.6" y2="1542.4" stroke="#333" stroke-width="1.5"/>
<text x="1766.6" y="1562.1" font-size="18.5" text-anchor="middle" font-family='"DejaVu Sans","Liberation Sans",sans-serif' stroke="#000" stroke-width="0.3" fill="#111">0.005</text>
<text x="1480.3" y="1589.8" font-size="22.12" text-anchor="middle" font-family='"DejaVu Sans","Liberation Sans",sans-serif' stroke="#000" stroke-width="0.3" >SHAP value (impact on model output)</text>
<text x="1480" y="976.3" font-size="20.35" text-anchor="middle" font-family='"DejaVu Sans","Liberation Sans",sans-serif' stroke="#000" stroke-width="0.3" >Top-10 Features • Normal Class</text>
<rect x="1838.2" y="986" width="7" height="550.8" fill="url(#cb)"/>
<text x="1850.9" y="993.5" font-size="18.9" text-anchor="start" font-family='"DejaVu Sans","Liberation Sans",sans-serif' stroke="#000" stroke-width="0.3" >High</text>
<text x="1850.9" y="1543.7" font-size="18.9" text-anchor="start" font-family='"DejaVu Sans","Liberation Sans",sans-serif' stroke="#000" stroke-width="0.3" >Low</text>
<text transform="translate(1908.2,1261) rotate(-90)" font-size="20.3" text-anchor="middle" stroke="#000" stroke-width="0.3" font-family='"DejaVu Sans","Liberation Sans",sans-serif'>Feature value</text>
<rect x="558.2" y="1848" width="324.9" height="35.9" fill="#229a04"/>
<line x1="257.2" y1="1865.9" x2="263.5" y2="1865.9" stroke="#000" stroke-width="1.6"/>
<text transform="translate(250.6,1873.1) scale(1,1.05)" font-size="18.25" text-anchor="end" font-family='"DejaVu Sans","Liberation Sans",sans-serif' stroke="#000" stroke-width="0.3" >Time_404 &lt;= -1.20</text>
<rect x="558.2" y="1892.8" width="311.6" height="35.9" fill="#229a04"/>
<line x1="257.2" y1="1910.8" x2="263.5" y2="1910.8" stroke="#000" stroke-width="1.6"/>
<text transform="translate(250.6,1918) scale(1,1.05)" font-size="18.25" text-anchor="end" font-family='"DejaVu Sans","Liberation Sans",sans-serif' stroke="#000" stroke-width="0.3" >Time_0 &lt;= -0.18</text>
<rect x="558.2" y="1937.7" width="273.8" height="35.9" fill="#229a04"/>
<line x1="257.2" y1="1955.6" x2="263.5" y2="1955.6" stroke="#000" stroke-width="1.6"/>
<text transform="translate(250.6,1962.8) scale(1,1.05)" font-size="18.25" text-anchor="end" font-family='"DejaVu Sans","Liberation Sans",sans-serif' stroke="#000" stroke-width="0.3" >-0.08 &lt; Time_227 &lt;= 0.13</text>
<rect x="558.2" y="1982.5" width="266" height="35.9" fill="#229a04"/>
<line x1="257.2" y1="2000.5" x2="263.5" y2="2000.5" stroke="#000" stroke-width="1.6"/>
<text transform="translate(250.6,2007.7) scale(1,1.05)" font-size="18.25" text-anchor="end" font-family='"DejaVu Sans","Liberation Sans",sans-serif' stroke="#000" stroke-width="0.3" >-1.67 &lt; Time_390 &lt;= -0.80</text>
<rect x="558.2" y="2027.4" width="266" height="35.9" fill="#229a04"/>
<line x1="257.2" y1="2045.3" x2="263.5" y2="2045.3" stroke="#000" stroke-width="1.6"/>
<text transform="translate(250.6,2052.5) scale(1,1.05)" font-size="18.25" text-anchor="end" font-family='"DejaVu Sans","Liberation Sans",sans-serif' stroke="#000" stroke-width="0.3" >Time_329 &gt; 0.30</text>
<rect x="292.8" y="2072.2" width="265.4" height="35.9" fill="#fb0a15"/>
<line x1="257.2" y1="2090.2" x2="263.5" y2="2090.2" stroke="#000" stroke-width="1.6"/>
<text transform="translate(250.6,2097.3) scale(1,1.05)" font-size="18.25" text-anchor="end" font-family='"DejaVu Sans","Liberation Sans",sans-serif' stroke="#000" stroke-width="0.3" >Time_21 &gt; 0.29</text>
<rect x="558.2" y="2117.1" width="263.5" height="35.9" fill="#229a04"/>
<line x1="257.2" y1="2135" x2="263.5" y2="2135" stroke="#000" stroke-width="1.6"/>
<text transform="translate(250.6,2142.2) scale(1,1.05)" font-size="18.25" text-anchor="end" font-family='"DejaVu Sans","Liberation Sans",sans-serif' stroke="#000" stroke-width="0.3" >Time_371 &lt;= -3.05</text>
<rect x="558.2" y="2161.9" width="255.2" height="35.9" fill="#229a04"/>
<line x1="257.2" y1="2179.8" x2="263.5" y2="2179.8" stroke="#000" stroke-width="1.6"/>
<text transform="translate(250.6,2187) scale(1,1.05)" font-size="18.25" text-anchor="end" font-family='"DejaVu Sans","Liberation Sans",sans-serif' stroke="#000" stroke-width="0.3" >-0.07 &lt; Time_708 &lt;= 0.08</text>
<rect x="558.2" y="2206.8" width="203" height="35.9" fill="#229a04"/>
<line x1="257.2" y1="2224.7" x2="263.5" y2="2224.7" stroke="#000" stroke-width="1.6"/>
<text transform="translate(250.6,2231.9) scale(1,1.05)" font-size="18.25" text-anchor="end" font-family='"DejaVu Sans","Liberation Sans",sans-serif' stroke="#000" stroke-width="0.3" >Time_506 &lt;= -0.65</text>
<rect x="385.4" y="2251.6" width="172.8" height="35.9" fill="#fb0a15"/>
<line x1="257.2" y1="2269.6" x2="263.5" y2="2269.6" stroke="#000" stroke-width="1.6"/>
<text transform="translate(250.6,2276.8) scale(1,1.05)" font-size="18.25" text-anchor="end" font-family='"DejaVu Sans","Liberation Sans",sans-serif' stroke="#000" stroke-width="0.3" >Time_527 &gt; 0.87</text>
<line x1="305.8" y1="2309.5" x2="305.8" y2="2315.8" stroke="#000" stroke-width="1.6"/>
<text transform="translate(305.8,2336.6) scale(1,1.05)" font-size="18.25" text-anchor="middle" font-family='"DejaVu Sans","Liberation Sans",sans-serif' stroke="#000" stroke-width="0.3" >−0.010</text>
<line x1="432" y1="2309.5" x2="432" y2="2315.8" stroke="#000" stroke-width="1.6"/>
<text transform="translate(432,2336.6) scale(1,1.05)" font-size="18.25" text-anchor="middle" font-family='"DejaVu Sans","Liberation Sans",sans-serif' stroke="#000" stroke-width="0.3" >−0.005</text>
<line x1="558.2" y1="2309.5" x2="558.2" y2="2315.8" stroke="#000" stroke-width="1.6"/>
<text transform="translate(558.2,2336.6) scale(1,1.05)" font-size="18.25" text-anchor="middle" font-family='"DejaVu Sans","Liberation Sans",sans-serif' stroke="#000" stroke-width="0.3" >0.000</text>
<line x1="684.4" y1="2309.5" x2="684.4" y2="2315.8" stroke="#000" stroke-width="1.6"/>
<text transform="translate(684.4,2336.6) scale(1,1.05)" font-size="18.25" text-anchor="middle" font-family='"DejaVu Sans","Liberation Sans",sans-serif' stroke="#000" stroke-width="0.3" >0.005</text>
<line x1="810.6" y1="2309.5" x2="810.6" y2="2315.8" stroke="#000" stroke-width="1.6"/>
<text transform="translate(810.6,2336.6) scale(1,1.05)" font-size="18.25" text-anchor="middle" font-family='"DejaVu Sans","Liberation Sans",sans-serif' stroke="#000" stroke-width="0.3" >0.010</text>
<rect x="263.5" y="1825.4" width="649.5" height="484.1" fill="none" stroke="#000" stroke-width="1.6"/>
<text transform="translate(588.2,1815.7) scale(1,1.015)" font-size="21.85" text-anchor="middle" font-family='"DejaVu Sans","Liberation Sans",sans-serif' stroke="#000" stroke-width="0.3" >LIME Explanation for Arrhythmia Class</text>
<rect x="1297" y="1823.3" width="247.8" height="39.2" fill="#fb0a15"/>
<line x1="1266.4" y1="1842.9" x2="1272.7" y2="1842.9" stroke="#000" stroke-width="1.6"/>
<text transform="translate(1259.8,1850.1) scale(1,1.05)" font-size="18.25" text-anchor="end" font-family='"DejaVu Sans","Liberation Sans",sans-serif' stroke="#000" stroke-width="0.3" >Time_407 &gt; 0.72</text>
<rect x="1544.8" y="1872.3" width="245.2" height="39.2" fill="#229a04"/>
<line x1="1266.4" y1="1891.9" x2="1272.7" y2="1891.9" stroke="#000" stroke-width="1.6"/>
<text transform="translate(1259.8,1899.1) scale(1,1.05)" font-size="18.25" text-anchor="end" font-family='"DejaVu Sans","Liberation Sans",sans-serif' stroke="#000" stroke-width="0.3" >Time_317 &gt; 0.28</text>
<rect x="1316.1" y="1921.4" width="228.7" height="39.2" fill="#fb0a15"/>
<line x1="1266.4" y1="1941" x2="1272.7" y2="1941" stroke="#000" stroke-width="1.6"/>
<text transform="translate(1259.8,1948.2) scale(1,1.05)" font-size="18.25" text-anchor="end" font-family='"DejaVu Sans","Liberation Sans",sans-serif' stroke="#000" stroke-width="0.3" >-0.05 &lt; Time_86 &lt;= 0.31</text>
<rect x="1544.8" y="1970.4" width="225.8" height="39.2" fill="#229a04"/>
<line x1="1266.4" y1="1990" x2="1272.7" y2="1990" stroke="#000" stroke-width="1.6"/>
<text transform="translate(1259.8,1997.2) scale(1,1.05)" font-size="18.25" text-anchor="end" font-family='"DejaVu Sans","Liberation Sans",sans-serif' stroke="#000" stroke-width="0.3" >Time_179 &gt; 0.28</text>
<rect x="1544.8" y="2019.5" width="226.1" height="39.2" fill="#229a04"/>
<line x1="1266.4" y1="2039.1" x2="1272.7" y2="2039.1" stroke="#000" stroke-width="1.6"/>
<text transform="translate(1259.8,2046.3) scale(1,1.05)" font-size="18.25" text-anchor="end" font-family='"DejaVu Sans","Liberation Sans",sans-serif' stroke="#000" stroke-width="0.3" >Time_621 &lt;= -0.17</text>
<rect x="1544.8" y="2068.5" width="218.7" height="39.2" fill="#229a04"/>
<line x1="1266.4" y1="2088.1" x2="1272.7" y2="2088.1" stroke="#000" stroke-width="1.6"/>
<text transform="translate(1259.8,2095.3) scale(1,1.05)" font-size="18.25" text-anchor="end" font-family='"DejaVu Sans","Liberation Sans",sans-serif' stroke="#000" stroke-width="0.3" >Time_141 &gt; 0.33</text>
<rect x="1349.5" y="2117.5" width="195.3" height="39.2" fill="#fb0a15"/>
<line x1="1266.4" y1="2137.1" x2="1272.7" y2="2137.1" stroke="#000" stroke-width="1.6"/>
<text transform="translate(1259.8,2144.3) scale(1,1.05)" font-size="18.25" text-anchor="end" font-family='"DejaVu Sans","Liberation Sans",sans-serif' stroke="#000" stroke-width="0.3" >Time_405 &gt; 0.71</text>
<rect x="1351.8" y="2166.6" width="193" height="39.2" fill="#fb0a15"/>
<line x1="1266.4" y1="2186.2" x2="1272.7" y2="2186.2" stroke="#000" stroke-width="1.6"/>
<text transform="translate(1259.8,2193.4) scale(1,1.05)" font-size="18.25" text-anchor="end" font-family='"DejaVu Sans","Liberation Sans",sans-serif' stroke="#000" stroke-width="0.3" >-0.18 &lt; Time_651 &lt;= 0.03</text>
<rect x="1544.8" y="2215.6" width="172.1" height="39.2" fill="#229a04"/>
<line x1="1266.4" y1="2235.2" x2="1272.7" y2="2235.2" stroke="#000" stroke-width="1.6"/>
<text transform="translate(1259.8,2242.4) scale(1,1.05)" font-size="18.25" text-anchor="end" font-family='"DejaVu Sans","Liberation Sans",sans-serif' stroke="#000" stroke-width="0.3" >-0.07 &lt; Time_92 &lt;= 0.28</text>
<rect x="1376.5" y="2264.7" width="168.3" height="39.2" fill="#fb0a15"/>
<line x1="1266.4" y1="2284.3" x2="1272.7" y2="2284.3" stroke="#000" stroke-width="1.6"/>
<text transform="translate(1259.8,2291.5) scale(1,1.05)" font-size="18.25" text-anchor="end" font-family='"DejaVu Sans","Liberation Sans",sans-serif' stroke="#000" stroke-width="0.3" >Time_237 &gt; 0.44</text>
<line x1="1321.8" y1="2327.8" x2="1321.8" y2="2334.1" stroke="#000" stroke-width="1.6"/>
<text transform="translate(1321.8,2355.7) scale(1,1.05)" font-size="18.25" text-anchor="middle" font-family='"DejaVu Sans","Liberation Sans",sans-serif' stroke="#000" stroke-width="0.3" >−0.0075</text>
<line x1="1396.1" y1="2327.8" x2="1396.1" y2="2334.1" stroke="#000" stroke-width="1.6"/>
<text transform="translate(1396.1,2355.7) scale(1,1.05)" font-size="18.25" text-anchor="middle" font-family='"DejaVu Sans","Liberation Sans",sans-serif' stroke="#000" stroke-width="0.3" >−0.0050</text>
<line x1="1470.5" y1="2327.8" x2="1470.5" y2="2334.1" stroke="#000" stroke-width="1.6"/>
<text transform="translate(1470.5,2355.7) scale(1,1.05)" font-size="18.25" text-anchor="middle" font-family='"DejaVu Sans","Liberation Sans",sans-serif' stroke="#000" stroke-width="0.3" >−0.0025</text>
<line x1="1544.8" y1="2327.8" x2="1544.8" y2="2334.1" stroke="#000" stroke-width="1.6"/>
<text transform="translate(1544.8,2355.7) scale(1,1.05)" font-size="18.25" text-anchor="middle" font-family='"DejaVu Sans","Liberation Sans",sans-serif' stroke="#000" stroke-width="0.3" >0.0000</text>
<line x1="1619.1" y1="2327.8" x2="1619.1" y2="2334.1" stroke="#000" stroke-width="1.6"/>
<text transform="translate(1619.1,2355.7) scale(1,1.05)" font-size="18.25" text-anchor="middle" font-family='"DejaVu Sans","Liberation Sans",sans-serif' stroke="#000" stroke-width="0.3" >0.0025</text>
<line x1="1693.5" y1="2327.8" x2="1693.5" y2="2334.1" stroke="#000" stroke-width="1.6"/>
<text transform="translate(1693.5,2355.7) scale(1,1.05)" font-size="18.25" text-anchor="middle" font-family='"DejaVu Sans","Liberation Sans",sans-serif' stroke="#000" stroke-width="0.3" >0.0050</text>
<line x1="1767.8" y1="2327.8" x2="1767.8" y2="2334.1" stroke="#000" stroke-width="1.6"/>
<text transform="translate(1767.8,2355.7) scale(1,1.05)" font-size="18.25" text-anchor="middle" font-family='"DejaVu Sans","Liberation Sans",sans-serif' stroke="#000" stroke-width="0.3" >0.0075</text>
<rect x="1272.7" y="1799.1" width="542.4" height="528.7" fill="none" stroke="#000" stroke-width="1.6"/>
<text transform="translate(1543.9,1788.9) scale(1,1.015)" font-size="21.85" text-anchor="middle" font-family='"DejaVu Sans","Liberation Sans",sans-serif' stroke="#000" stroke-width="0.3" >LIME Explanation for Normal Class</text>
</svg>
</body></html>
